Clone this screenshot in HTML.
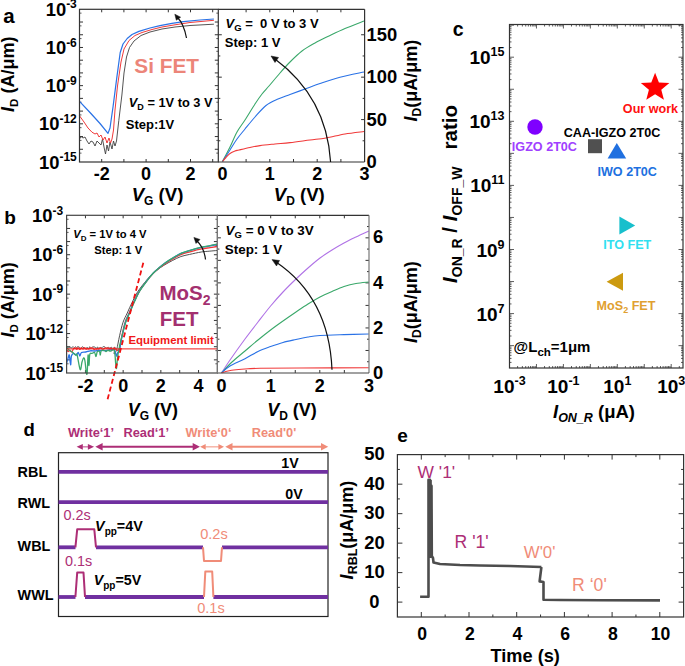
<!DOCTYPE html>
<html><head><meta charset="utf-8"><style>
html,body{margin:0;padding:0;background:#fff;}
svg{display:block;font-family:"Liberation Sans",sans-serif;}
text{white-space:pre;}
</style></head><body>
<svg width="685" height="666" viewBox="0 0 685 666" font-family="Liberation Sans, sans-serif">
<rect width="685" height="666" fill="#fff"/>
<line x1="79.50" y1="153.11" x2="81.50" y2="153.11" stroke="#333" stroke-width="0.8" />
<line x1="218.30" y1="153.11" x2="216.30" y2="153.11" stroke="#333" stroke-width="0.8" />
<line x1="79.50" y1="149.28" x2="83.00" y2="149.28" stroke="#333" stroke-width="1" />
<line x1="218.30" y1="149.28" x2="214.80" y2="149.28" stroke="#333" stroke-width="1" />
<line x1="79.50" y1="140.38" x2="81.50" y2="140.38" stroke="#333" stroke-width="0.8" />
<line x1="218.30" y1="140.38" x2="216.30" y2="140.38" stroke="#333" stroke-width="0.8" />
<line x1="79.50" y1="136.55" x2="83.00" y2="136.55" stroke="#333" stroke-width="1" />
<line x1="218.30" y1="136.55" x2="214.80" y2="136.55" stroke="#333" stroke-width="1" />
<line x1="79.50" y1="127.66" x2="81.50" y2="127.66" stroke="#333" stroke-width="0.8" />
<line x1="218.30" y1="127.66" x2="216.30" y2="127.66" stroke="#333" stroke-width="0.8" />
<line x1="79.50" y1="123.82" x2="83.00" y2="123.82" stroke="#333" stroke-width="1" />
<line x1="218.30" y1="123.82" x2="214.80" y2="123.82" stroke="#333" stroke-width="1" />
<line x1="79.50" y1="114.93" x2="81.50" y2="114.93" stroke="#333" stroke-width="0.8" />
<line x1="218.30" y1="114.93" x2="216.30" y2="114.93" stroke="#333" stroke-width="0.8" />
<line x1="79.50" y1="111.10" x2="83.00" y2="111.10" stroke="#333" stroke-width="1" />
<line x1="218.30" y1="111.10" x2="214.80" y2="111.10" stroke="#333" stroke-width="1" />
<line x1="79.50" y1="102.21" x2="81.50" y2="102.21" stroke="#333" stroke-width="0.8" />
<line x1="218.30" y1="102.21" x2="216.30" y2="102.21" stroke="#333" stroke-width="0.8" />
<line x1="79.50" y1="98.37" x2="83.00" y2="98.37" stroke="#333" stroke-width="1" />
<line x1="218.30" y1="98.37" x2="214.80" y2="98.37" stroke="#333" stroke-width="1" />
<line x1="79.50" y1="89.48" x2="81.50" y2="89.48" stroke="#333" stroke-width="0.8" />
<line x1="218.30" y1="89.48" x2="216.30" y2="89.48" stroke="#333" stroke-width="0.8" />
<line x1="79.50" y1="85.65" x2="83.00" y2="85.65" stroke="#333" stroke-width="1" />
<line x1="218.30" y1="85.65" x2="214.80" y2="85.65" stroke="#333" stroke-width="1" />
<line x1="79.50" y1="76.76" x2="81.50" y2="76.76" stroke="#333" stroke-width="0.8" />
<line x1="218.30" y1="76.76" x2="216.30" y2="76.76" stroke="#333" stroke-width="0.8" />
<line x1="79.50" y1="72.92" x2="83.00" y2="72.92" stroke="#333" stroke-width="1" />
<line x1="218.30" y1="72.92" x2="214.80" y2="72.92" stroke="#333" stroke-width="1" />
<line x1="79.50" y1="64.03" x2="81.50" y2="64.03" stroke="#333" stroke-width="0.8" />
<line x1="218.30" y1="64.03" x2="216.30" y2="64.03" stroke="#333" stroke-width="0.8" />
<line x1="79.50" y1="60.20" x2="83.00" y2="60.20" stroke="#333" stroke-width="1" />
<line x1="218.30" y1="60.20" x2="214.80" y2="60.20" stroke="#333" stroke-width="1" />
<line x1="79.50" y1="51.31" x2="81.50" y2="51.31" stroke="#333" stroke-width="0.8" />
<line x1="218.30" y1="51.31" x2="216.30" y2="51.31" stroke="#333" stroke-width="0.8" />
<line x1="79.50" y1="47.47" x2="83.00" y2="47.47" stroke="#333" stroke-width="1" />
<line x1="218.30" y1="47.47" x2="214.80" y2="47.47" stroke="#333" stroke-width="1" />
<line x1="79.50" y1="38.58" x2="81.50" y2="38.58" stroke="#333" stroke-width="0.8" />
<line x1="218.30" y1="38.58" x2="216.30" y2="38.58" stroke="#333" stroke-width="0.8" />
<line x1="79.50" y1="34.75" x2="83.00" y2="34.75" stroke="#333" stroke-width="1" />
<line x1="218.30" y1="34.75" x2="214.80" y2="34.75" stroke="#333" stroke-width="1" />
<line x1="79.50" y1="25.86" x2="81.50" y2="25.86" stroke="#333" stroke-width="0.8" />
<line x1="218.30" y1="25.86" x2="216.30" y2="25.86" stroke="#333" stroke-width="0.8" />
<line x1="79.50" y1="22.02" x2="83.00" y2="22.02" stroke="#333" stroke-width="1" />
<line x1="218.30" y1="22.02" x2="214.80" y2="22.02" stroke="#333" stroke-width="1" />
<line x1="79.50" y1="13.13" x2="81.50" y2="13.13" stroke="#333" stroke-width="0.8" />
<line x1="218.30" y1="13.13" x2="216.30" y2="13.13" stroke="#333" stroke-width="0.8" />
<line x1="101.70" y1="162.00" x2="101.70" y2="159.00" stroke="#333" stroke-width="1" />
<line x1="101.70" y1="9.30" x2="101.70" y2="12.30" stroke="#333" stroke-width="1" />
<line x1="123.90" y1="162.00" x2="123.90" y2="159.00" stroke="#333" stroke-width="1" />
<line x1="123.90" y1="9.30" x2="123.90" y2="12.30" stroke="#333" stroke-width="1" />
<line x1="146.10" y1="162.00" x2="146.10" y2="159.00" stroke="#333" stroke-width="1" />
<line x1="146.10" y1="9.30" x2="146.10" y2="12.30" stroke="#333" stroke-width="1" />
<line x1="168.30" y1="162.00" x2="168.30" y2="159.00" stroke="#333" stroke-width="1" />
<line x1="168.30" y1="9.30" x2="168.30" y2="12.30" stroke="#333" stroke-width="1" />
<line x1="190.50" y1="162.00" x2="190.50" y2="159.00" stroke="#333" stroke-width="1" />
<line x1="190.50" y1="9.30" x2="190.50" y2="12.30" stroke="#333" stroke-width="1" />
<line x1="212.70" y1="162.00" x2="212.70" y2="159.00" stroke="#333" stroke-width="1" />
<line x1="212.70" y1="9.30" x2="212.70" y2="12.30" stroke="#333" stroke-width="1" />
<text x="76.8" y="15.9" font-size="18.4" text-anchor="end" fill="#000" font-weight="bold">10<tspan font-size="12" dy="-7.5">-3</tspan></text>
<text x="76.8" y="54.1" font-size="18.4" text-anchor="end" fill="#000" font-weight="bold">10<tspan font-size="12" dy="-7.5">-6</tspan></text>
<text x="76.8" y="92.2" font-size="18.4" text-anchor="end" fill="#000" font-weight="bold">10<tspan font-size="12" dy="-7.5">-9</tspan></text>
<text x="76.8" y="130.4" font-size="18.4" text-anchor="end" fill="#000" font-weight="bold">10<tspan font-size="12" dy="-7.5">-12</tspan></text>
<text x="76.8" y="168.6" font-size="18.4" text-anchor="end" fill="#000" font-weight="bold">10<tspan font-size="12" dy="-7.5">-15</tspan></text>
<text x="101.7" y="179.9" font-size="18" text-anchor="middle" fill="#000" font-weight="bold" font-style="normal" >-2</text>
<text x="146.1" y="179.9" font-size="18" text-anchor="middle" fill="#000" font-weight="bold" font-style="normal" >0</text>
<text x="190.5" y="179.9" font-size="18" text-anchor="middle" fill="#000" font-weight="bold" font-style="normal" >2</text>
<text x="157.5" y="200.9" font-size="18.6" text-anchor="middle" font-weight="bold"><tspan font-style="italic">V</tspan><tspan font-size="12" dy="4.4">G</tspan><tspan dy="-4.4"> (V)</tspan></text>
<text transform="translate(13.6,74.25) rotate(-90)" font-size="18" text-anchor="middle" font-weight="bold"><tspan font-style="italic">I</tspan><tspan font-size="11.5" dy="4">D</tspan><tspan dy="-4"> (A/μm)</tspan></text>
<text x="3.2" y="23.0" font-size="20.5" text-anchor="start" fill="#000" font-weight="bold" font-style="normal" >a</text>
<polyline points="79.50,139.00 81.00,136.50 83.00,138.00 85.00,137.00 87.00,141.00 89.00,144.00 91.00,141.00 93.00,142.00 95.00,146.00 97.00,141.00 99.00,143.00 101.00,145.00 102.50,139.00 104.00,147.00 105.50,154.00 107.00,145.00 108.50,151.00 110.00,142.00 112.00,149.00 113.50,141.00 115.00,146.00 116.50,141.00 118.80,120.50 121.90,95.00 124.00,73.00 126.50,57.00 129.50,47.50 134.00,41.00 141.00,35.50 150.00,32.00 162.00,29.00 175.00,27.00 190.00,25.50 213.90,24.20" fill="none" stroke="#404040" stroke-width="0.9" stroke-linejoin="round" />
<polyline points="79.50,115.80 84.00,122.00 88.00,128.00 92.00,132.20 95.00,134.00 97.00,133.00 99.00,137.00 101.00,135.00 103.00,140.00 105.00,137.00 107.00,143.00 109.00,138.00 110.50,143.00 112.00,139.00 113.50,130.00 115.00,110.00 117.50,86.00 121.00,62.00 124.00,49.00 129.00,40.50 135.00,35.50 142.00,32.50 152.00,29.50 162.00,27.00 175.00,24.80 190.00,22.50 213.90,20.30" fill="none" stroke="#f03a3a" stroke-width="1.0" stroke-linejoin="round" />
<polyline points="79.50,101.30 90.00,112.50 100.00,123.50 108.00,133.40 110.00,128.00 113.10,106.40 116.70,78.30 120.20,52.50 123.00,44.00 127.20,38.50 132.00,34.50 138.90,31.40 150.00,28.00 160.00,25.60 172.00,23.30 183.40,21.60 200.00,20.00 213.90,19.00" fill="none" stroke="#2a72e6" stroke-width="1.2" stroke-linejoin="round" />
<rect x="79.50" y="9.30" width="138.80" height="152.70" fill="none" stroke="#333" stroke-width="1.2"/>
<path d="M186.5,38 C185,30 182,22 177.5,17.5" fill="none" stroke="#111" stroke-width="1.2" />
<path d="M174.8,14.2 L180.6,17.2 L176.3,20.2 Z" fill="#111" stroke="#111" stroke-width="0.5" />
<text x="134.3" y="72.8" font-size="20.8" text-anchor="start" fill="#ec8579" font-weight="bold" font-style="normal" >Si FET</text>
<text x="128.8" y="107.2" font-size="12.8" font-weight="bold"><tspan font-style="italic">V</tspan><tspan font-size="9" dy="3">D</tspan><tspan dy="-3"> = 1V to 3 V</tspan></text>
<text x="125.8" y="129.4" font-size="13" text-anchor="start" fill="#000" font-weight="bold" font-style="normal" >Step:1V</text>
<line x1="246.10" y1="162.00" x2="246.10" y2="159.00" stroke="#333" stroke-width="1" />
<line x1="246.10" y1="9.30" x2="246.10" y2="12.30" stroke="#333" stroke-width="1" />
<line x1="269.80" y1="162.00" x2="269.80" y2="159.00" stroke="#333" stroke-width="1" />
<line x1="269.80" y1="9.30" x2="269.80" y2="12.30" stroke="#333" stroke-width="1" />
<line x1="293.50" y1="162.00" x2="293.50" y2="159.00" stroke="#333" stroke-width="1" />
<line x1="293.50" y1="9.30" x2="293.50" y2="12.30" stroke="#333" stroke-width="1" />
<line x1="317.20" y1="162.00" x2="317.20" y2="159.00" stroke="#333" stroke-width="1" />
<line x1="317.20" y1="9.30" x2="317.20" y2="12.30" stroke="#333" stroke-width="1" />
<line x1="340.90" y1="162.00" x2="340.90" y2="159.00" stroke="#333" stroke-width="1" />
<line x1="340.90" y1="9.30" x2="340.90" y2="12.30" stroke="#333" stroke-width="1" />
<line x1="364.60" y1="140.79" x2="362.60" y2="140.79" stroke="#333" stroke-width="1" />
<line x1="218.30" y1="140.79" x2="220.30" y2="140.79" stroke="#333" stroke-width="1" />
<line x1="364.60" y1="119.58" x2="361.10" y2="119.58" stroke="#333" stroke-width="1" />
<line x1="218.30" y1="119.58" x2="221.80" y2="119.58" stroke="#333" stroke-width="1" />
<line x1="364.60" y1="98.38" x2="362.60" y2="98.38" stroke="#333" stroke-width="1" />
<line x1="218.30" y1="98.38" x2="220.30" y2="98.38" stroke="#333" stroke-width="1" />
<line x1="364.60" y1="77.17" x2="361.10" y2="77.17" stroke="#333" stroke-width="1" />
<line x1="218.30" y1="77.17" x2="221.80" y2="77.17" stroke="#333" stroke-width="1" />
<line x1="364.60" y1="55.96" x2="362.60" y2="55.96" stroke="#333" stroke-width="1" />
<line x1="218.30" y1="55.96" x2="220.30" y2="55.96" stroke="#333" stroke-width="1" />
<line x1="364.60" y1="34.75" x2="361.10" y2="34.75" stroke="#333" stroke-width="1" />
<line x1="218.30" y1="34.75" x2="221.80" y2="34.75" stroke="#333" stroke-width="1" />
<path d="M222.50,161.50 C223.75,159.08 227.58,151.92 230.00,147.00 C232.42,142.08 234.50,136.50 237.00,132.00 C239.50,127.50 242.00,124.67 245.00,120.00 C248.00,115.33 252.17,108.33 255.00,104.00 C257.83,99.67 259.67,97.00 262.00,94.00 C264.33,91.00 266.00,89.50 269.00,86.00 C272.00,82.50 276.50,77.00 280.00,73.00 C283.50,69.00 286.33,65.67 290.00,62.00 C293.67,58.33 297.83,54.17 302.00,51.00 C306.17,47.83 310.50,45.50 315.00,43.00 C319.50,40.50 324.00,38.42 329.00,36.00 C334.00,33.58 339.17,31.00 345.00,28.50 C350.83,26.00 360.83,22.25 364.00,21.00" fill="none" stroke="#3aa86a" stroke-width="1.1" stroke-linejoin="round" />
<path d="M222.50,161.50 C223.75,159.58 227.58,153.75 230.00,150.00 C232.42,146.25 234.50,142.50 237.00,139.00 C239.50,135.50 242.00,132.67 245.00,129.00 C248.00,125.33 251.50,120.92 255.00,117.00 C258.50,113.08 262.17,108.50 266.00,105.50 C269.83,102.50 274.00,100.83 278.00,99.00 C282.00,97.17 285.50,96.17 290.00,94.50 C294.50,92.83 300.00,90.83 305.00,89.00 C310.00,87.17 314.17,85.47 320.00,83.50 C325.83,81.53 332.67,79.12 340.00,77.20 C347.33,75.28 360.00,72.87 364.00,72.00" fill="none" stroke="#2a72e6" stroke-width="1.1" stroke-linejoin="round" />
<path d="M222.50,161.50 C223.08,160.83 224.75,158.83 226.00,157.50 C227.25,156.17 228.50,154.58 230.00,153.50 C231.50,152.42 233.50,151.58 235.00,151.00 C236.50,150.42 236.50,150.58 239.00,150.00 C241.50,149.42 246.50,148.23 250.00,147.50 C253.50,146.77 255.83,146.18 260.00,145.60 C264.17,145.02 270.00,144.50 275.00,144.00 C280.00,143.50 284.17,143.27 290.00,142.60 C295.83,141.93 304.00,140.77 310.00,140.00 C316.00,139.23 320.17,139.00 326.00,138.00 C331.83,137.00 338.67,135.08 345.00,134.00 C351.33,132.92 360.83,131.92 364.00,131.50" fill="none" stroke="#f03a3a" stroke-width="1.1" stroke-linejoin="round" />
<line x1="218.30" y1="9.30" x2="364.60" y2="9.30" stroke="#333" stroke-width="1.2" />
<line x1="364.60" y1="9.30" x2="364.60" y2="162.00" stroke="#333" stroke-width="1.2" />
<line x1="218.30" y1="162.00" x2="364.60" y2="162.00" stroke="#333" stroke-width="1.2" />
<text x="222.4" y="179.9" font-size="18" text-anchor="middle" fill="#000" font-weight="bold" font-style="normal" >0</text>
<text x="269.8" y="179.9" font-size="18" text-anchor="middle" fill="#000" font-weight="bold" font-style="normal" >1</text>
<text x="317.2" y="179.9" font-size="18" text-anchor="middle" fill="#000" font-weight="bold" font-style="normal" >2</text>
<text x="364.6" y="179.9" font-size="18" text-anchor="middle" fill="#000" font-weight="bold" font-style="normal" >3</text>
<text x="366.5" y="168.0" font-size="18.4" text-anchor="start" fill="#000" font-weight="bold" font-style="normal" >0</text>
<text x="366.5" y="125.6" font-size="18.4" text-anchor="start" fill="#000" font-weight="bold" font-style="normal" >50</text>
<text x="366.5" y="83.2" font-size="18.4" text-anchor="start" fill="#000" font-weight="bold" font-style="normal" >100</text>
<text x="366.5" y="40.8" font-size="18.4" text-anchor="start" fill="#000" font-weight="bold" font-style="normal" >150</text>
<text x="299.3" y="200.9" font-size="18.6" text-anchor="middle" font-weight="bold"><tspan font-style="italic">V</tspan><tspan font-size="12" dy="4.4">D</tspan><tspan dy="-4.4"> (V)</tspan></text>
<text transform="translate(416.9,80.6) rotate(-90)" font-size="18" text-anchor="middle" font-weight="bold"><tspan font-style="italic">I</tspan><tspan font-size="12" dy="4">D</tspan><tspan dy="-4">(μA/μm)</tspan></text>
<path d="M330.6,162 C328,120 310,85 275,59" fill="none" stroke="#111" stroke-width="1.2" />
<path d="M271,56 L278.5,57.5 L275,62.5 Z" fill="#111" stroke="#111" stroke-width="0.5" />
<text x="225.6" y="28.1" font-size="13" font-weight="bold"><tspan font-style="italic">V</tspan><tspan font-size="9.5" dy="3">G</tspan><tspan dy="-3"> =  0 V to 3 V</tspan></text>
<text x="224.8" y="46.5" font-size="13" text-anchor="start" fill="#000" font-weight="bold" font-style="normal" >Step: 1 V</text>
<line x1="66.60" y1="363.81" x2="68.60" y2="363.81" stroke="#333" stroke-width="0.8" />
<line x1="217.40" y1="363.81" x2="215.40" y2="363.81" stroke="#333" stroke-width="0.8" />
<line x1="66.60" y1="359.86" x2="70.10" y2="359.86" stroke="#333" stroke-width="1" />
<line x1="217.40" y1="359.86" x2="213.90" y2="359.86" stroke="#333" stroke-width="1" />
<line x1="66.60" y1="350.67" x2="68.60" y2="350.67" stroke="#333" stroke-width="0.8" />
<line x1="217.40" y1="350.67" x2="215.40" y2="350.67" stroke="#333" stroke-width="0.8" />
<line x1="66.60" y1="346.72" x2="70.10" y2="346.72" stroke="#333" stroke-width="1" />
<line x1="217.40" y1="346.72" x2="213.90" y2="346.72" stroke="#333" stroke-width="1" />
<line x1="66.60" y1="337.53" x2="68.60" y2="337.53" stroke="#333" stroke-width="0.8" />
<line x1="217.40" y1="337.53" x2="215.40" y2="337.53" stroke="#333" stroke-width="0.8" />
<line x1="66.60" y1="333.57" x2="70.10" y2="333.57" stroke="#333" stroke-width="1" />
<line x1="217.40" y1="333.57" x2="213.90" y2="333.57" stroke="#333" stroke-width="1" />
<line x1="66.60" y1="324.39" x2="68.60" y2="324.39" stroke="#333" stroke-width="0.8" />
<line x1="217.40" y1="324.39" x2="215.40" y2="324.39" stroke="#333" stroke-width="0.8" />
<line x1="66.60" y1="320.43" x2="70.10" y2="320.43" stroke="#333" stroke-width="1" />
<line x1="217.40" y1="320.43" x2="213.90" y2="320.43" stroke="#333" stroke-width="1" />
<line x1="66.60" y1="311.25" x2="68.60" y2="311.25" stroke="#333" stroke-width="0.8" />
<line x1="217.40" y1="311.25" x2="215.40" y2="311.25" stroke="#333" stroke-width="0.8" />
<line x1="66.60" y1="307.29" x2="70.10" y2="307.29" stroke="#333" stroke-width="1" />
<line x1="217.40" y1="307.29" x2="213.90" y2="307.29" stroke="#333" stroke-width="1" />
<line x1="66.60" y1="298.11" x2="68.60" y2="298.11" stroke="#333" stroke-width="0.8" />
<line x1="217.40" y1="298.11" x2="215.40" y2="298.11" stroke="#333" stroke-width="0.8" />
<line x1="66.60" y1="294.15" x2="70.10" y2="294.15" stroke="#333" stroke-width="1" />
<line x1="217.40" y1="294.15" x2="213.90" y2="294.15" stroke="#333" stroke-width="1" />
<line x1="66.60" y1="284.96" x2="68.60" y2="284.96" stroke="#333" stroke-width="0.8" />
<line x1="217.40" y1="284.96" x2="215.40" y2="284.96" stroke="#333" stroke-width="0.8" />
<line x1="66.60" y1="281.01" x2="70.10" y2="281.01" stroke="#333" stroke-width="1" />
<line x1="217.40" y1="281.01" x2="213.90" y2="281.01" stroke="#333" stroke-width="1" />
<line x1="66.60" y1="271.82" x2="68.60" y2="271.82" stroke="#333" stroke-width="0.8" />
<line x1="217.40" y1="271.82" x2="215.40" y2="271.82" stroke="#333" stroke-width="0.8" />
<line x1="66.60" y1="267.87" x2="70.10" y2="267.87" stroke="#333" stroke-width="1" />
<line x1="217.40" y1="267.87" x2="213.90" y2="267.87" stroke="#333" stroke-width="1" />
<line x1="66.60" y1="258.68" x2="68.60" y2="258.68" stroke="#333" stroke-width="0.8" />
<line x1="217.40" y1="258.68" x2="215.40" y2="258.68" stroke="#333" stroke-width="0.8" />
<line x1="66.60" y1="254.73" x2="70.10" y2="254.73" stroke="#333" stroke-width="1" />
<line x1="217.40" y1="254.73" x2="213.90" y2="254.73" stroke="#333" stroke-width="1" />
<line x1="66.60" y1="245.54" x2="68.60" y2="245.54" stroke="#333" stroke-width="0.8" />
<line x1="217.40" y1="245.54" x2="215.40" y2="245.54" stroke="#333" stroke-width="0.8" />
<line x1="66.60" y1="241.58" x2="70.10" y2="241.58" stroke="#333" stroke-width="1" />
<line x1="217.40" y1="241.58" x2="213.90" y2="241.58" stroke="#333" stroke-width="1" />
<line x1="66.60" y1="232.40" x2="68.60" y2="232.40" stroke="#333" stroke-width="0.8" />
<line x1="217.40" y1="232.40" x2="215.40" y2="232.40" stroke="#333" stroke-width="0.8" />
<line x1="66.60" y1="228.44" x2="70.10" y2="228.44" stroke="#333" stroke-width="1" />
<line x1="217.40" y1="228.44" x2="213.90" y2="228.44" stroke="#333" stroke-width="1" />
<line x1="66.60" y1="219.26" x2="68.60" y2="219.26" stroke="#333" stroke-width="0.8" />
<line x1="217.40" y1="219.26" x2="215.40" y2="219.26" stroke="#333" stroke-width="0.8" />
<line x1="85.45" y1="373.00" x2="85.45" y2="370.00" stroke="#333" stroke-width="1" />
<line x1="85.45" y1="215.30" x2="85.45" y2="218.30" stroke="#333" stroke-width="1" />
<line x1="104.30" y1="373.00" x2="104.30" y2="370.00" stroke="#333" stroke-width="1" />
<line x1="104.30" y1="215.30" x2="104.30" y2="218.30" stroke="#333" stroke-width="1" />
<line x1="123.15" y1="373.00" x2="123.15" y2="370.00" stroke="#333" stroke-width="1" />
<line x1="123.15" y1="215.30" x2="123.15" y2="218.30" stroke="#333" stroke-width="1" />
<line x1="142.00" y1="373.00" x2="142.00" y2="370.00" stroke="#333" stroke-width="1" />
<line x1="142.00" y1="215.30" x2="142.00" y2="218.30" stroke="#333" stroke-width="1" />
<line x1="160.85" y1="373.00" x2="160.85" y2="370.00" stroke="#333" stroke-width="1" />
<line x1="160.85" y1="215.30" x2="160.85" y2="218.30" stroke="#333" stroke-width="1" />
<line x1="179.70" y1="373.00" x2="179.70" y2="370.00" stroke="#333" stroke-width="1" />
<line x1="179.70" y1="215.30" x2="179.70" y2="218.30" stroke="#333" stroke-width="1" />
<line x1="198.55" y1="373.00" x2="198.55" y2="370.00" stroke="#333" stroke-width="1" />
<line x1="198.55" y1="215.30" x2="198.55" y2="218.30" stroke="#333" stroke-width="1" />
<text x="63.2" y="222.0" font-size="18.4" text-anchor="end" fill="#000" font-weight="bold">10<tspan font-size="12" dy="-7.5">-3</tspan></text>
<text x="63.2" y="261.4" font-size="18.4" text-anchor="end" fill="#000" font-weight="bold">10<tspan font-size="12" dy="-7.5">-6</tspan></text>
<text x="63.2" y="300.8" font-size="18.4" text-anchor="end" fill="#000" font-weight="bold">10<tspan font-size="12" dy="-7.5">-9</tspan></text>
<text x="63.2" y="340.3" font-size="18.4" text-anchor="end" fill="#000" font-weight="bold">10<tspan font-size="12" dy="-7.5">-12</tspan></text>
<text x="63.2" y="379.7" font-size="18.4" text-anchor="end" fill="#000" font-weight="bold">10<tspan font-size="12" dy="-7.5">-15</tspan></text>
<text x="85.4" y="391.6" font-size="18" text-anchor="middle" fill="#000" font-weight="bold" font-style="normal" >-2</text>
<text x="123.2" y="391.6" font-size="18" text-anchor="middle" fill="#000" font-weight="bold" font-style="normal" >0</text>
<text x="160.8" y="391.6" font-size="18" text-anchor="middle" fill="#000" font-weight="bold" font-style="normal" >2</text>
<text x="198.6" y="391.6" font-size="18" text-anchor="middle" fill="#000" font-weight="bold" font-style="normal" >4</text>
<text x="152.9" y="415.8" font-size="18" text-anchor="middle" font-weight="bold"><tspan font-style="italic">V</tspan><tspan font-size="12" dy="4.4">G</tspan><tspan dy="-4.4"> (V)</tspan></text>
<text transform="translate(13.6,299.9) rotate(-90)" font-size="18" text-anchor="middle" font-weight="bold"><tspan font-style="italic">I</tspan><tspan font-size="11.5" dy="4">D</tspan><tspan dy="-4"> (A/μm)</tspan></text>
<text x="4.2" y="223.7" font-size="19" text-anchor="start" fill="#000" font-weight="bold" font-style="normal" >b</text>
<path d="M66.60,347.38 C66.78,347.31 67.33,346.83 67.70,346.96 C68.07,347.09 68.43,348.19 68.80,348.16 C69.17,348.13 69.53,346.82 69.90,346.77 C70.27,346.73 70.63,347.77 71.00,347.89 C71.37,348.00 71.73,347.67 72.10,347.48 C72.47,347.29 72.83,346.68 73.20,346.74 C73.57,346.80 73.93,347.83 74.30,347.82 C74.67,347.81 75.03,346.72 75.40,346.69 C75.77,346.66 76.13,347.63 76.50,347.64 C76.87,347.65 77.23,346.90 77.60,346.77 C77.97,346.63 78.33,346.68 78.70,346.82 C79.07,346.96 79.43,347.32 79.80,347.62 C80.17,347.91 80.53,348.70 80.90,348.58 C81.27,348.46 81.63,347.14 82.00,346.90 C82.37,346.66 82.73,346.93 83.10,347.14 C83.47,347.34 83.83,347.82 84.20,348.11 C84.57,348.40 84.93,348.89 85.30,348.87 C85.67,348.85 86.03,348.21 86.40,347.99 C86.77,347.76 87.13,347.39 87.50,347.55 C87.87,347.71 88.23,349.08 88.60,348.94 C88.97,348.80 89.33,346.76 89.70,346.71 C90.07,346.66 90.43,348.56 90.80,348.66 C91.17,348.76 91.53,347.58 91.90,347.30 C92.27,347.01 92.63,347.01 93.00,346.95 C93.37,346.88 93.73,346.82 94.10,346.88 C94.47,346.95 94.83,347.06 95.20,347.34 C95.57,347.62 95.93,348.61 96.30,348.56 C96.67,348.51 97.03,347.13 97.40,347.03 C97.77,346.94 98.13,347.81 98.50,348.00 C98.87,348.18 99.23,348.22 99.60,348.13 C99.97,348.05 100.33,347.53 100.70,347.49 C101.07,347.46 101.43,348.04 101.80,347.91 C102.17,347.79 102.53,346.95 102.90,346.75 C103.27,346.56 103.63,346.69 104.00,346.74 C104.37,346.80 104.73,346.85 105.10,347.09 C105.47,347.34 105.83,348.14 106.20,348.23 C106.57,348.32 106.93,347.77 107.30,347.63 C107.67,347.48 108.03,347.29 108.40,347.35 C108.77,347.42 109.13,347.95 109.50,348.01 C109.87,348.06 110.23,347.80 110.60,347.69 C110.97,347.57 111.33,347.18 111.70,347.32 C112.07,347.46 112.43,348.35 112.80,348.51 C113.17,348.67 113.53,348.50 113.90,348.28 C114.27,348.06 114.97,346.23 115.00,347.19 C115.03,348.14 113.81,353.66 114.10,354.00 C114.39,354.34 115.82,352.26 116.74,349.22 C117.65,346.19 118.53,340.26 119.58,335.79 C120.62,331.31 121.73,326.18 123.01,322.39 C124.29,318.60 125.74,316.37 127.25,313.04 C128.76,309.72 130.36,305.97 132.09,302.44 C133.82,298.91 135.55,295.17 137.62,291.87 C139.70,288.58 142.27,285.49 144.56,282.65 C146.86,279.82 149.10,277.13 151.40,274.88 C153.70,272.62 156.21,270.76 158.34,269.14 C160.47,267.52 161.85,266.57 164.18,265.15 C166.50,263.73 169.55,262.03 172.31,260.60 C175.07,259.17 177.87,257.62 180.75,256.59 C183.63,255.57 186.18,255.19 189.59,254.43 C193.00,253.67 197.85,252.56 201.22,252.01 C204.60,251.46 207.23,251.39 209.86,251.13 C212.49,250.88 215.81,250.61 217.00,250.50" fill="none" stroke="#505050" stroke-width="1.0" stroke-linejoin="round" />
<path d="M66.60,349.50 C66.83,349.83 67.43,351.33 68.00,351.50 C68.57,351.67 69.33,350.45 70.00,350.50 C70.67,350.55 71.42,352.13 72.00,351.80 C72.58,351.47 73.07,349.10 73.50,348.53 C73.93,347.95 74.23,348.45 74.60,348.35 C74.97,348.24 75.33,347.71 75.70,347.88 C76.07,348.04 76.43,349.38 76.80,349.33 C77.17,349.29 77.53,347.73 77.90,347.61 C78.27,347.49 78.63,348.31 79.00,348.61 C79.37,348.90 79.73,349.54 80.10,349.40 C80.47,349.26 80.83,347.88 81.20,347.76 C81.57,347.65 81.93,348.53 82.30,348.71 C82.67,348.89 83.03,349.00 83.40,348.83 C83.77,348.66 84.13,347.76 84.50,347.68 C84.87,347.60 85.23,348.14 85.60,348.36 C85.97,348.58 86.33,348.98 86.70,349.01 C87.07,349.03 87.43,348.50 87.80,348.50 C88.17,348.51 88.53,349.15 88.90,349.05 C89.27,348.95 89.63,348.08 90.00,347.91 C90.37,347.75 90.73,348.09 91.10,348.08 C91.47,348.06 91.83,347.73 92.20,347.82 C92.57,347.91 92.93,348.34 93.30,348.61 C93.67,348.88 94.03,349.42 94.40,349.45 C94.77,349.48 95.13,348.83 95.50,348.78 C95.87,348.73 96.23,349.22 96.60,349.15 C96.97,349.08 97.33,348.38 97.70,348.37 C98.07,348.36 98.43,349.19 98.80,349.09 C99.17,349.00 99.53,347.95 99.90,347.80 C100.27,347.65 100.63,347.99 101.00,348.18 C101.37,348.37 101.73,348.80 102.10,348.95 C102.47,349.09 102.83,349.14 103.20,349.05 C103.57,348.97 103.93,348.66 104.30,348.44 C104.67,348.23 105.03,347.83 105.40,347.78 C105.77,347.72 106.13,348.09 106.50,348.13 C106.87,348.17 107.23,348.01 107.60,348.02 C107.97,348.02 108.33,347.96 108.70,348.16 C109.07,348.36 109.43,349.25 109.80,349.22 C110.17,349.19 110.53,347.97 110.90,348.00 C111.27,348.02 111.63,349.15 112.00,349.37 C112.37,349.60 112.73,349.64 113.10,349.36 C113.47,349.08 113.72,347.69 114.20,347.71 C114.68,347.73 115.16,349.25 116.00,349.50 C116.84,349.75 118.28,351.50 119.27,349.21 C120.26,346.91 120.95,340.22 121.94,335.72 C122.93,331.23 123.98,326.07 125.21,322.25 C126.43,318.43 127.82,316.16 129.28,312.79 C130.73,309.43 132.27,305.63 133.94,302.05 C135.62,298.47 137.29,294.67 139.31,291.31 C141.34,287.95 143.84,284.79 146.08,281.89 C148.32,278.98 150.51,276.21 152.75,273.88 C154.99,271.54 157.45,269.59 159.52,267.87 C161.59,266.16 162.91,265.11 165.19,263.59 C167.46,262.06 170.45,260.25 173.16,258.71 C175.86,257.17 178.60,255.50 181.43,254.34 C184.25,253.19 186.74,252.69 190.09,251.79 C193.45,250.89 198.24,249.64 201.56,248.95 C204.89,248.25 207.46,248.03 210.03,247.62 C212.60,247.21 215.84,246.69 217.00,246.50" fill="none" stroke="#f03a3a" stroke-width="1.3" stroke-linejoin="round" />
<path d="M66.60,363.00 C66.83,362.27 67.55,359.93 68.00,358.60 C68.45,357.27 68.87,353.97 69.30,355.00 C69.73,356.03 70.25,364.63 70.60,364.80 C70.95,364.97 70.90,357.90 71.40,356.00 C71.90,354.10 72.78,353.57 73.60,353.40 C74.42,353.23 75.50,355.15 76.30,355.00 C77.10,354.85 77.82,352.33 78.40,352.50 C78.98,352.67 79.28,356.00 79.80,356.00 C80.32,356.00 80.48,353.17 81.50,352.50 C82.52,351.83 84.43,352.28 85.90,352.00 C87.37,351.72 88.78,350.97 90.30,350.80 C91.82,350.63 93.55,351.08 95.00,351.00 C96.45,350.92 97.50,350.37 99.00,350.30 C100.50,350.23 102.33,350.65 104.00,350.60 C105.67,350.55 107.28,350.10 109.00,350.00 C110.72,349.90 113.05,349.00 114.30,350.00 C115.55,351.00 115.97,355.50 116.50,356.00 C117.03,356.50 116.99,354.13 117.50,353.00 C118.01,351.87 118.77,352.08 119.55,349.20 C120.33,346.31 121.22,340.19 122.20,335.69 C123.18,331.19 124.23,326.02 125.45,322.18 C126.67,318.35 128.05,316.06 129.50,312.67 C130.95,309.28 132.48,305.46 134.15,301.85 C135.82,298.24 137.48,294.42 139.50,291.03 C141.52,287.64 144.02,284.45 146.25,281.50 C148.48,278.56 150.67,275.75 152.90,273.38 C155.13,271.00 157.58,269.00 159.65,267.24 C161.72,265.48 163.03,264.38 165.30,262.80 C167.57,261.23 170.55,259.36 173.25,257.76 C175.95,256.17 178.68,254.43 181.50,253.22 C184.32,252.00 186.80,251.44 190.15,250.47 C193.50,249.50 198.28,248.19 201.60,247.42 C204.92,246.65 207.48,246.35 210.05,245.86 C212.62,245.37 215.84,244.73 217.00,244.50" fill="none" stroke="#2a72e6" stroke-width="1.3" stroke-linejoin="round" />
<path d="M66.60,347.30 C67.05,347.80 68.27,349.43 69.30,350.30 C70.33,351.17 71.78,351.72 72.80,352.50 C73.82,353.28 74.68,354.58 75.40,355.00 C76.12,355.42 76.30,352.57 77.10,355.00 C77.90,357.43 79.38,368.43 80.20,369.60 C81.02,370.77 81.42,363.97 82.00,362.00 C82.58,360.03 83.20,357.92 83.70,357.80 C84.20,357.68 84.57,358.83 85.00,361.30 C85.43,363.77 85.93,370.72 86.30,372.60 C86.67,374.48 86.90,375.53 87.20,372.60 C87.50,369.67 87.80,356.17 88.10,355.00 C88.40,353.83 88.72,365.72 89.00,365.60 C89.28,365.48 89.30,356.33 89.80,354.30 C90.30,352.27 91.20,353.70 92.00,353.40 C92.80,353.10 93.93,351.98 94.60,352.50 C95.27,353.02 95.55,356.65 96.00,356.50 C96.45,356.35 96.72,352.42 97.30,351.60 C97.88,350.78 99.00,351.03 99.50,351.60 C100.00,352.17 100.02,355.13 100.30,355.00 C100.58,354.87 100.53,351.58 101.20,350.80 C101.87,350.02 103.50,350.17 104.30,350.30 C105.10,350.43 105.42,351.60 106.00,351.60 C106.58,351.60 107.07,350.37 107.80,350.30 C108.53,350.23 109.32,351.20 110.40,351.20 C111.48,351.20 113.42,348.17 114.30,350.30 C115.18,352.43 115.33,361.00 115.70,364.00 C116.07,367.00 116.18,369.47 116.50,368.30 C116.82,367.13 117.15,360.37 117.60,357.00 C118.05,353.63 118.65,350.88 119.20,348.10 C119.75,345.32 119.80,344.62 120.90,340.30 C122.00,335.98 124.29,326.78 125.77,322.17 C127.26,317.56 128.36,316.04 129.80,312.65 C131.24,309.26 132.77,305.43 134.42,301.82 C136.08,298.21 137.74,294.38 139.75,290.99 C141.76,287.59 144.25,284.39 146.48,281.45 C148.70,278.50 150.88,275.68 153.10,273.30 C155.32,270.92 157.77,268.92 159.83,267.15 C161.88,265.38 163.19,264.27 165.45,262.69 C167.71,261.10 170.68,259.23 173.38,257.62 C176.07,256.02 178.79,254.28 181.60,253.05 C184.41,251.83 186.88,251.25 190.22,250.27 C193.57,249.29 198.34,247.97 201.65,247.19 C204.96,246.41 207.52,246.09 210.07,245.60 C212.63,245.10 215.85,244.43 217.00,244.20" fill="none" stroke="#3aa86a" stroke-width="1.3" stroke-linejoin="round" />
<line x1="66.60" y1="348.90" x2="217.40" y2="348.90" stroke="#f01818" stroke-width="1.0" />
<line x1="107.60" y1="399.20" x2="143.40" y2="262.40" stroke="#f01010" stroke-width="1.8" stroke-dasharray="5,3"/>
<rect x="66.60" y="215.30" width="150.80" height="157.70" fill="none" stroke="#444" stroke-width="1.2"/>
<path d="M205.5,259.5 C204.5,251 201.5,245 196.5,240.5" fill="none" stroke="#111" stroke-width="1.2" />
<path d="M193.9,237.4 L200,239.5 L196,243.5 Z" fill="#111" stroke="#111" stroke-width="0.5" />
<text x="73.2" y="238.4" font-size="11.2" font-weight="bold"><tspan font-style="italic">V</tspan><tspan font-size="8" dy="2.5">D</tspan><tspan dy="-2.5"> = 1V to 4 V</tspan></text>
<text x="94.3" y="254.2" font-size="11.2" text-anchor="start" fill="#000" font-weight="bold" font-style="normal" >Step: 1 V</text>
<text x="159.4" y="300.4" font-size="20.5" font-weight="bold" fill="#a3306f">MoS<tspan font-size="14" dy="4.9">2</tspan></text>
<text x="159.8" y="325.8" font-size="20.5" text-anchor="start" fill="#a3306f" font-weight="bold" font-style="normal" >FET</text>
<text x="128.4" y="343.8" font-size="11.4" text-anchor="start" fill="#f01818" font-weight="bold" font-style="normal" >Equipment limit</text>
<line x1="246.15" y1="373.00" x2="246.15" y2="370.00" stroke="#333" stroke-width="1" />
<line x1="246.15" y1="215.30" x2="246.15" y2="218.30" stroke="#333" stroke-width="1" />
<line x1="270.70" y1="373.00" x2="270.70" y2="370.00" stroke="#333" stroke-width="1" />
<line x1="270.70" y1="215.30" x2="270.70" y2="218.30" stroke="#333" stroke-width="1" />
<line x1="295.25" y1="373.00" x2="295.25" y2="370.00" stroke="#333" stroke-width="1" />
<line x1="295.25" y1="215.30" x2="295.25" y2="218.30" stroke="#333" stroke-width="1" />
<line x1="319.80" y1="373.00" x2="319.80" y2="370.00" stroke="#333" stroke-width="1" />
<line x1="319.80" y1="215.30" x2="319.80" y2="218.30" stroke="#333" stroke-width="1" />
<line x1="344.35" y1="373.00" x2="344.35" y2="370.00" stroke="#333" stroke-width="1" />
<line x1="344.35" y1="215.30" x2="344.35" y2="218.30" stroke="#333" stroke-width="1" />
<line x1="369.00" y1="361.74" x2="367.00" y2="361.74" stroke="#333" stroke-width="1" />
<line x1="217.40" y1="361.74" x2="219.40" y2="361.74" stroke="#333" stroke-width="1" />
<line x1="369.00" y1="350.47" x2="365.50" y2="350.47" stroke="#333" stroke-width="1" />
<line x1="217.40" y1="350.47" x2="220.90" y2="350.47" stroke="#333" stroke-width="1" />
<line x1="369.00" y1="339.21" x2="367.00" y2="339.21" stroke="#333" stroke-width="1" />
<line x1="217.40" y1="339.21" x2="219.40" y2="339.21" stroke="#333" stroke-width="1" />
<line x1="369.00" y1="327.94" x2="365.50" y2="327.94" stroke="#333" stroke-width="1" />
<line x1="217.40" y1="327.94" x2="220.90" y2="327.94" stroke="#333" stroke-width="1" />
<line x1="369.00" y1="316.68" x2="367.00" y2="316.68" stroke="#333" stroke-width="1" />
<line x1="217.40" y1="316.68" x2="219.40" y2="316.68" stroke="#333" stroke-width="1" />
<line x1="369.00" y1="305.41" x2="365.50" y2="305.41" stroke="#333" stroke-width="1" />
<line x1="217.40" y1="305.41" x2="220.90" y2="305.41" stroke="#333" stroke-width="1" />
<line x1="369.00" y1="294.15" x2="367.00" y2="294.15" stroke="#333" stroke-width="1" />
<line x1="217.40" y1="294.15" x2="219.40" y2="294.15" stroke="#333" stroke-width="1" />
<line x1="369.00" y1="282.89" x2="365.50" y2="282.89" stroke="#333" stroke-width="1" />
<line x1="217.40" y1="282.89" x2="220.90" y2="282.89" stroke="#333" stroke-width="1" />
<line x1="369.00" y1="271.62" x2="367.00" y2="271.62" stroke="#333" stroke-width="1" />
<line x1="217.40" y1="271.62" x2="219.40" y2="271.62" stroke="#333" stroke-width="1" />
<line x1="369.00" y1="260.36" x2="365.50" y2="260.36" stroke="#333" stroke-width="1" />
<line x1="217.40" y1="260.36" x2="220.90" y2="260.36" stroke="#333" stroke-width="1" />
<line x1="369.00" y1="249.09" x2="367.00" y2="249.09" stroke="#333" stroke-width="1" />
<line x1="217.40" y1="249.09" x2="219.40" y2="249.09" stroke="#333" stroke-width="1" />
<line x1="369.00" y1="237.83" x2="365.50" y2="237.83" stroke="#333" stroke-width="1" />
<line x1="217.40" y1="237.83" x2="220.90" y2="237.83" stroke="#333" stroke-width="1" />
<line x1="369.00" y1="226.56" x2="367.00" y2="226.56" stroke="#333" stroke-width="1" />
<line x1="217.40" y1="226.56" x2="219.40" y2="226.56" stroke="#333" stroke-width="1" />
<path d="M221.60,372.80 C223.00,370.67 226.10,365.63 230.00,360.00 C233.90,354.37 240.33,345.33 245.00,339.00 C249.67,332.67 253.73,327.50 258.00,322.00 C262.27,316.50 266.43,311.00 270.60,306.00 C274.77,301.00 278.77,296.50 283.00,292.00 C287.23,287.50 291.83,283.00 296.00,279.00 C300.17,275.00 304.00,271.50 308.00,268.00 C312.00,264.50 316.00,261.00 320.00,258.00 C324.00,255.00 328.00,252.50 332.00,250.00 C336.00,247.50 340.00,245.17 344.00,243.00 C348.00,240.83 351.87,239.00 356.00,237.00 C360.13,235.00 366.67,232.00 368.80,231.00" fill="none" stroke="#b073e6" stroke-width="1.1" stroke-linejoin="round" />
<path d="M221.60,372.80 C223.33,371.00 228.10,365.63 232.00,362.00 C235.90,358.37 240.67,354.67 245.00,351.00 C249.33,347.33 253.73,343.50 258.00,340.00 C262.27,336.50 266.43,333.17 270.60,330.00 C274.77,326.83 278.77,324.00 283.00,321.00 C287.23,318.00 291.83,314.83 296.00,312.00 C300.17,309.17 304.00,306.50 308.00,304.00 C312.00,301.50 316.00,299.08 320.00,297.00 C324.00,294.92 328.00,293.23 332.00,291.50 C336.00,289.77 340.00,287.93 344.00,286.60 C348.00,285.27 351.87,284.27 356.00,283.50 C360.13,282.73 366.67,282.25 368.80,282.00" fill="none" stroke="#3aa86a" stroke-width="1.1" stroke-linejoin="round" />
<path d="M221.60,372.80 C223.00,371.67 226.10,368.35 230.00,366.00 C233.90,363.65 240.33,361.12 245.00,358.70 C249.67,356.28 253.73,353.52 258.00,351.50 C262.27,349.48 266.43,348.10 270.60,346.60 C274.77,345.10 278.77,343.68 283.00,342.50 C287.23,341.32 291.83,340.42 296.00,339.50 C300.17,338.58 304.00,337.67 308.00,337.00 C312.00,336.33 314.00,335.90 320.00,335.50 C326.00,335.10 335.87,334.85 344.00,334.60 C352.13,334.35 364.67,334.10 368.80,334.00" fill="none" stroke="#2a72e6" stroke-width="1.1" stroke-linejoin="round" />
<path d="M221.60,372.80 C222.67,372.50 225.60,371.50 228.00,371.00 C230.40,370.50 232.67,370.17 236.00,369.80 C239.33,369.43 244.00,369.05 248.00,368.80 C252.00,368.55 251.33,368.43 260.00,368.30 C268.67,368.17 281.87,368.08 300.00,368.00 C318.13,367.92 357.33,367.83 368.80,367.80" fill="none" stroke="#f03a3a" stroke-width="1.1" stroke-linejoin="round" />
<line x1="217.40" y1="215.30" x2="369.00" y2="215.30" stroke="#333" stroke-width="1.2" />
<line x1="369.00" y1="215.30" x2="369.00" y2="373.00" stroke="#777" stroke-width="1.2" />
<line x1="217.40" y1="373.00" x2="369.00" y2="373.00" stroke="#444" stroke-width="1.2" />
<line x1="217.40" y1="215.30" x2="217.40" y2="373.00" stroke="#777" stroke-width="1.2" />
<text x="221.6" y="391.6" font-size="18" text-anchor="middle" fill="#000" font-weight="bold" font-style="normal" >0</text>
<text x="270.7" y="391.6" font-size="18" text-anchor="middle" fill="#000" font-weight="bold" font-style="normal" >1</text>
<text x="319.8" y="391.6" font-size="18" text-anchor="middle" fill="#000" font-weight="bold" font-style="normal" >2</text>
<text x="368.9" y="391.6" font-size="18" text-anchor="middle" fill="#000" font-weight="bold" font-style="normal" >3</text>
<text x="373.0" y="378.6" font-size="18.4" text-anchor="start" fill="#000" font-weight="bold" font-style="normal" >0</text>
<text x="373.0" y="333.5" font-size="18.4" text-anchor="start" fill="#000" font-weight="bold" font-style="normal" >2</text>
<text x="373.0" y="288.5" font-size="18.4" text-anchor="start" fill="#000" font-weight="bold" font-style="normal" >4</text>
<text x="373.0" y="243.4" font-size="18.4" text-anchor="start" fill="#000" font-weight="bold" font-style="normal" >6</text>
<text x="292" y="415.6" font-size="18" text-anchor="middle" font-weight="bold"><tspan font-style="italic">V</tspan><tspan font-size="12" dy="4.4">D</tspan><tspan dy="-4.4"> (V)</tspan></text>
<text transform="translate(417.2,302.1) rotate(-90)" font-size="18" text-anchor="middle" font-weight="bold"><tspan font-style="italic">I</tspan><tspan font-size="12" dy="4">D</tspan><tspan dy="-4">(μA/μm)</tspan></text>
<path d="M332,369.8 C330,320 310,285 276,262" fill="none" stroke="#111" stroke-width="1.2" />
<path d="M272,259.6 L279.5,260.5 L276.5,266 Z" fill="#111" stroke="#111" stroke-width="0.5" />
<text x="225.6" y="234.9" font-size="13.4" font-weight="bold"><tspan font-style="italic">V</tspan><tspan font-size="9.5" dy="3">G</tspan><tspan dy="-3"> = 0 V to 3V</tspan></text>
<text x="224.8" y="253.7" font-size="13.4" text-anchor="start" fill="#000" font-weight="bold" font-style="normal" >Step: 1 V</text>
<line x1="517.61" y1="368.00" x2="517.61" y2="366.00" stroke="#333" stroke-width="0.8" />
<line x1="517.61" y1="24.50" x2="517.61" y2="26.50" stroke="#333" stroke-width="0.8" />
<line x1="522.36" y1="368.00" x2="522.36" y2="366.00" stroke="#333" stroke-width="0.8" />
<line x1="522.36" y1="24.50" x2="522.36" y2="26.50" stroke="#333" stroke-width="0.8" />
<line x1="525.73" y1="368.00" x2="525.73" y2="366.00" stroke="#333" stroke-width="0.8" />
<line x1="525.73" y1="24.50" x2="525.73" y2="26.50" stroke="#333" stroke-width="0.8" />
<line x1="528.34" y1="368.00" x2="528.34" y2="366.00" stroke="#333" stroke-width="0.8" />
<line x1="528.34" y1="24.50" x2="528.34" y2="26.50" stroke="#333" stroke-width="0.8" />
<line x1="530.47" y1="368.00" x2="530.47" y2="366.00" stroke="#333" stroke-width="0.8" />
<line x1="530.47" y1="24.50" x2="530.47" y2="26.50" stroke="#333" stroke-width="0.8" />
<line x1="532.28" y1="368.00" x2="532.28" y2="366.00" stroke="#333" stroke-width="0.8" />
<line x1="532.28" y1="24.50" x2="532.28" y2="26.50" stroke="#333" stroke-width="0.8" />
<line x1="533.84" y1="368.00" x2="533.84" y2="366.00" stroke="#333" stroke-width="0.8" />
<line x1="533.84" y1="24.50" x2="533.84" y2="26.50" stroke="#333" stroke-width="0.8" />
<line x1="535.22" y1="368.00" x2="535.22" y2="366.00" stroke="#333" stroke-width="0.8" />
<line x1="535.22" y1="24.50" x2="535.22" y2="26.50" stroke="#333" stroke-width="0.8" />
<line x1="536.45" y1="368.00" x2="536.45" y2="364.00" stroke="#333" stroke-width="0.8" />
<line x1="536.45" y1="24.50" x2="536.45" y2="28.50" stroke="#333" stroke-width="0.8" />
<line x1="544.56" y1="368.00" x2="544.56" y2="366.00" stroke="#333" stroke-width="0.8" />
<line x1="544.56" y1="24.50" x2="544.56" y2="26.50" stroke="#333" stroke-width="0.8" />
<line x1="549.31" y1="368.00" x2="549.31" y2="366.00" stroke="#333" stroke-width="0.8" />
<line x1="549.31" y1="24.50" x2="549.31" y2="26.50" stroke="#333" stroke-width="0.8" />
<line x1="552.68" y1="368.00" x2="552.68" y2="366.00" stroke="#333" stroke-width="0.8" />
<line x1="552.68" y1="24.50" x2="552.68" y2="26.50" stroke="#333" stroke-width="0.8" />
<line x1="555.29" y1="368.00" x2="555.29" y2="366.00" stroke="#333" stroke-width="0.8" />
<line x1="555.29" y1="24.50" x2="555.29" y2="26.50" stroke="#333" stroke-width="0.8" />
<line x1="557.42" y1="368.00" x2="557.42" y2="366.00" stroke="#333" stroke-width="0.8" />
<line x1="557.42" y1="24.50" x2="557.42" y2="26.50" stroke="#333" stroke-width="0.8" />
<line x1="559.23" y1="368.00" x2="559.23" y2="366.00" stroke="#333" stroke-width="0.8" />
<line x1="559.23" y1="24.50" x2="559.23" y2="26.50" stroke="#333" stroke-width="0.8" />
<line x1="560.79" y1="368.00" x2="560.79" y2="366.00" stroke="#333" stroke-width="0.8" />
<line x1="560.79" y1="24.50" x2="560.79" y2="26.50" stroke="#333" stroke-width="0.8" />
<line x1="562.17" y1="368.00" x2="562.17" y2="366.00" stroke="#333" stroke-width="0.8" />
<line x1="562.17" y1="24.50" x2="562.17" y2="26.50" stroke="#333" stroke-width="0.8" />
<line x1="563.40" y1="368.00" x2="563.40" y2="364.00" stroke="#333" stroke-width="0.8" />
<line x1="563.40" y1="24.50" x2="563.40" y2="28.50" stroke="#333" stroke-width="0.8" />
<line x1="571.51" y1="368.00" x2="571.51" y2="366.00" stroke="#333" stroke-width="0.8" />
<line x1="571.51" y1="24.50" x2="571.51" y2="26.50" stroke="#333" stroke-width="0.8" />
<line x1="576.26" y1="368.00" x2="576.26" y2="366.00" stroke="#333" stroke-width="0.8" />
<line x1="576.26" y1="24.50" x2="576.26" y2="26.50" stroke="#333" stroke-width="0.8" />
<line x1="579.63" y1="368.00" x2="579.63" y2="366.00" stroke="#333" stroke-width="0.8" />
<line x1="579.63" y1="24.50" x2="579.63" y2="26.50" stroke="#333" stroke-width="0.8" />
<line x1="582.24" y1="368.00" x2="582.24" y2="366.00" stroke="#333" stroke-width="0.8" />
<line x1="582.24" y1="24.50" x2="582.24" y2="26.50" stroke="#333" stroke-width="0.8" />
<line x1="584.37" y1="368.00" x2="584.37" y2="366.00" stroke="#333" stroke-width="0.8" />
<line x1="584.37" y1="24.50" x2="584.37" y2="26.50" stroke="#333" stroke-width="0.8" />
<line x1="586.18" y1="368.00" x2="586.18" y2="366.00" stroke="#333" stroke-width="0.8" />
<line x1="586.18" y1="24.50" x2="586.18" y2="26.50" stroke="#333" stroke-width="0.8" />
<line x1="587.74" y1="368.00" x2="587.74" y2="366.00" stroke="#333" stroke-width="0.8" />
<line x1="587.74" y1="24.50" x2="587.74" y2="26.50" stroke="#333" stroke-width="0.8" />
<line x1="589.12" y1="368.00" x2="589.12" y2="366.00" stroke="#333" stroke-width="0.8" />
<line x1="589.12" y1="24.50" x2="589.12" y2="26.50" stroke="#333" stroke-width="0.8" />
<line x1="590.35" y1="368.00" x2="590.35" y2="364.00" stroke="#333" stroke-width="0.8" />
<line x1="590.35" y1="24.50" x2="590.35" y2="28.50" stroke="#333" stroke-width="0.8" />
<line x1="598.46" y1="368.00" x2="598.46" y2="366.00" stroke="#333" stroke-width="0.8" />
<line x1="598.46" y1="24.50" x2="598.46" y2="26.50" stroke="#333" stroke-width="0.8" />
<line x1="603.21" y1="368.00" x2="603.21" y2="366.00" stroke="#333" stroke-width="0.8" />
<line x1="603.21" y1="24.50" x2="603.21" y2="26.50" stroke="#333" stroke-width="0.8" />
<line x1="606.58" y1="368.00" x2="606.58" y2="366.00" stroke="#333" stroke-width="0.8" />
<line x1="606.58" y1="24.50" x2="606.58" y2="26.50" stroke="#333" stroke-width="0.8" />
<line x1="609.19" y1="368.00" x2="609.19" y2="366.00" stroke="#333" stroke-width="0.8" />
<line x1="609.19" y1="24.50" x2="609.19" y2="26.50" stroke="#333" stroke-width="0.8" />
<line x1="611.32" y1="368.00" x2="611.32" y2="366.00" stroke="#333" stroke-width="0.8" />
<line x1="611.32" y1="24.50" x2="611.32" y2="26.50" stroke="#333" stroke-width="0.8" />
<line x1="613.13" y1="368.00" x2="613.13" y2="366.00" stroke="#333" stroke-width="0.8" />
<line x1="613.13" y1="24.50" x2="613.13" y2="26.50" stroke="#333" stroke-width="0.8" />
<line x1="614.69" y1="368.00" x2="614.69" y2="366.00" stroke="#333" stroke-width="0.8" />
<line x1="614.69" y1="24.50" x2="614.69" y2="26.50" stroke="#333" stroke-width="0.8" />
<line x1="616.07" y1="368.00" x2="616.07" y2="366.00" stroke="#333" stroke-width="0.8" />
<line x1="616.07" y1="24.50" x2="616.07" y2="26.50" stroke="#333" stroke-width="0.8" />
<line x1="617.30" y1="368.00" x2="617.30" y2="364.00" stroke="#333" stroke-width="0.8" />
<line x1="617.30" y1="24.50" x2="617.30" y2="28.50" stroke="#333" stroke-width="0.8" />
<line x1="625.41" y1="368.00" x2="625.41" y2="366.00" stroke="#333" stroke-width="0.8" />
<line x1="625.41" y1="24.50" x2="625.41" y2="26.50" stroke="#333" stroke-width="0.8" />
<line x1="630.16" y1="368.00" x2="630.16" y2="366.00" stroke="#333" stroke-width="0.8" />
<line x1="630.16" y1="24.50" x2="630.16" y2="26.50" stroke="#333" stroke-width="0.8" />
<line x1="633.53" y1="368.00" x2="633.53" y2="366.00" stroke="#333" stroke-width="0.8" />
<line x1="633.53" y1="24.50" x2="633.53" y2="26.50" stroke="#333" stroke-width="0.8" />
<line x1="636.14" y1="368.00" x2="636.14" y2="366.00" stroke="#333" stroke-width="0.8" />
<line x1="636.14" y1="24.50" x2="636.14" y2="26.50" stroke="#333" stroke-width="0.8" />
<line x1="638.27" y1="368.00" x2="638.27" y2="366.00" stroke="#333" stroke-width="0.8" />
<line x1="638.27" y1="24.50" x2="638.27" y2="26.50" stroke="#333" stroke-width="0.8" />
<line x1="640.08" y1="368.00" x2="640.08" y2="366.00" stroke="#333" stroke-width="0.8" />
<line x1="640.08" y1="24.50" x2="640.08" y2="26.50" stroke="#333" stroke-width="0.8" />
<line x1="641.64" y1="368.00" x2="641.64" y2="366.00" stroke="#333" stroke-width="0.8" />
<line x1="641.64" y1="24.50" x2="641.64" y2="26.50" stroke="#333" stroke-width="0.8" />
<line x1="643.02" y1="368.00" x2="643.02" y2="366.00" stroke="#333" stroke-width="0.8" />
<line x1="643.02" y1="24.50" x2="643.02" y2="26.50" stroke="#333" stroke-width="0.8" />
<line x1="644.25" y1="368.00" x2="644.25" y2="364.00" stroke="#333" stroke-width="0.8" />
<line x1="644.25" y1="24.50" x2="644.25" y2="28.50" stroke="#333" stroke-width="0.8" />
<line x1="652.36" y1="368.00" x2="652.36" y2="366.00" stroke="#333" stroke-width="0.8" />
<line x1="652.36" y1="24.50" x2="652.36" y2="26.50" stroke="#333" stroke-width="0.8" />
<line x1="657.11" y1="368.00" x2="657.11" y2="366.00" stroke="#333" stroke-width="0.8" />
<line x1="657.11" y1="24.50" x2="657.11" y2="26.50" stroke="#333" stroke-width="0.8" />
<line x1="660.48" y1="368.00" x2="660.48" y2="366.00" stroke="#333" stroke-width="0.8" />
<line x1="660.48" y1="24.50" x2="660.48" y2="26.50" stroke="#333" stroke-width="0.8" />
<line x1="663.09" y1="368.00" x2="663.09" y2="366.00" stroke="#333" stroke-width="0.8" />
<line x1="663.09" y1="24.50" x2="663.09" y2="26.50" stroke="#333" stroke-width="0.8" />
<line x1="665.22" y1="368.00" x2="665.22" y2="366.00" stroke="#333" stroke-width="0.8" />
<line x1="665.22" y1="24.50" x2="665.22" y2="26.50" stroke="#333" stroke-width="0.8" />
<line x1="667.03" y1="368.00" x2="667.03" y2="366.00" stroke="#333" stroke-width="0.8" />
<line x1="667.03" y1="24.50" x2="667.03" y2="26.50" stroke="#333" stroke-width="0.8" />
<line x1="668.59" y1="368.00" x2="668.59" y2="366.00" stroke="#333" stroke-width="0.8" />
<line x1="668.59" y1="24.50" x2="668.59" y2="26.50" stroke="#333" stroke-width="0.8" />
<line x1="669.97" y1="368.00" x2="669.97" y2="366.00" stroke="#333" stroke-width="0.8" />
<line x1="669.97" y1="24.50" x2="669.97" y2="26.50" stroke="#333" stroke-width="0.8" />
<line x1="671.20" y1="368.00" x2="671.20" y2="364.00" stroke="#333" stroke-width="0.8" />
<line x1="671.20" y1="24.50" x2="671.20" y2="28.50" stroke="#333" stroke-width="0.8" />
<line x1="679.31" y1="368.00" x2="679.31" y2="366.00" stroke="#333" stroke-width="0.8" />
<line x1="679.31" y1="24.50" x2="679.31" y2="26.50" stroke="#333" stroke-width="0.8" />
<line x1="509.50" y1="362.41" x2="511.50" y2="362.41" stroke="#333" stroke-width="0.8" />
<line x1="683.00" y1="362.41" x2="681.00" y2="362.41" stroke="#333" stroke-width="0.8" />
<line x1="509.50" y1="358.40" x2="511.50" y2="358.40" stroke="#333" stroke-width="0.8" />
<line x1="683.00" y1="358.40" x2="681.00" y2="358.40" stroke="#333" stroke-width="0.8" />
<line x1="509.50" y1="355.30" x2="511.50" y2="355.30" stroke="#333" stroke-width="0.8" />
<line x1="683.00" y1="355.30" x2="681.00" y2="355.30" stroke="#333" stroke-width="0.8" />
<line x1="509.50" y1="352.76" x2="511.50" y2="352.76" stroke="#333" stroke-width="0.8" />
<line x1="683.00" y1="352.76" x2="681.00" y2="352.76" stroke="#333" stroke-width="0.8" />
<line x1="509.50" y1="350.61" x2="511.50" y2="350.61" stroke="#333" stroke-width="0.8" />
<line x1="683.00" y1="350.61" x2="681.00" y2="350.61" stroke="#333" stroke-width="0.8" />
<line x1="509.50" y1="348.76" x2="511.50" y2="348.76" stroke="#333" stroke-width="0.8" />
<line x1="683.00" y1="348.76" x2="681.00" y2="348.76" stroke="#333" stroke-width="0.8" />
<line x1="509.50" y1="347.12" x2="511.50" y2="347.12" stroke="#333" stroke-width="0.8" />
<line x1="683.00" y1="347.12" x2="681.00" y2="347.12" stroke="#333" stroke-width="0.8" />
<line x1="509.50" y1="345.65" x2="514.00" y2="345.65" stroke="#333" stroke-width="0.8" />
<line x1="683.00" y1="345.65" x2="678.50" y2="345.65" stroke="#333" stroke-width="0.8" />
<line x1="509.50" y1="336.00" x2="511.50" y2="336.00" stroke="#333" stroke-width="0.8" />
<line x1="683.00" y1="336.00" x2="681.00" y2="336.00" stroke="#333" stroke-width="0.8" />
<line x1="509.50" y1="330.36" x2="511.50" y2="330.36" stroke="#333" stroke-width="0.8" />
<line x1="683.00" y1="330.36" x2="681.00" y2="330.36" stroke="#333" stroke-width="0.8" />
<line x1="509.50" y1="326.35" x2="511.50" y2="326.35" stroke="#333" stroke-width="0.8" />
<line x1="683.00" y1="326.35" x2="681.00" y2="326.35" stroke="#333" stroke-width="0.8" />
<line x1="509.50" y1="323.25" x2="511.50" y2="323.25" stroke="#333" stroke-width="0.8" />
<line x1="683.00" y1="323.25" x2="681.00" y2="323.25" stroke="#333" stroke-width="0.8" />
<line x1="509.50" y1="320.71" x2="511.50" y2="320.71" stroke="#333" stroke-width="0.8" />
<line x1="683.00" y1="320.71" x2="681.00" y2="320.71" stroke="#333" stroke-width="0.8" />
<line x1="509.50" y1="318.56" x2="511.50" y2="318.56" stroke="#333" stroke-width="0.8" />
<line x1="683.00" y1="318.56" x2="681.00" y2="318.56" stroke="#333" stroke-width="0.8" />
<line x1="509.50" y1="316.71" x2="511.50" y2="316.71" stroke="#333" stroke-width="0.8" />
<line x1="683.00" y1="316.71" x2="681.00" y2="316.71" stroke="#333" stroke-width="0.8" />
<line x1="509.50" y1="315.07" x2="511.50" y2="315.07" stroke="#333" stroke-width="0.8" />
<line x1="683.00" y1="315.07" x2="681.00" y2="315.07" stroke="#333" stroke-width="0.8" />
<line x1="509.50" y1="313.60" x2="514.00" y2="313.60" stroke="#333" stroke-width="0.8" />
<line x1="683.00" y1="313.60" x2="678.50" y2="313.60" stroke="#333" stroke-width="0.8" />
<line x1="509.50" y1="303.95" x2="511.50" y2="303.95" stroke="#333" stroke-width="0.8" />
<line x1="683.00" y1="303.95" x2="681.00" y2="303.95" stroke="#333" stroke-width="0.8" />
<line x1="509.50" y1="298.31" x2="511.50" y2="298.31" stroke="#333" stroke-width="0.8" />
<line x1="683.00" y1="298.31" x2="681.00" y2="298.31" stroke="#333" stroke-width="0.8" />
<line x1="509.50" y1="294.30" x2="511.50" y2="294.30" stroke="#333" stroke-width="0.8" />
<line x1="683.00" y1="294.30" x2="681.00" y2="294.30" stroke="#333" stroke-width="0.8" />
<line x1="509.50" y1="291.20" x2="511.50" y2="291.20" stroke="#333" stroke-width="0.8" />
<line x1="683.00" y1="291.20" x2="681.00" y2="291.20" stroke="#333" stroke-width="0.8" />
<line x1="509.50" y1="288.66" x2="511.50" y2="288.66" stroke="#333" stroke-width="0.8" />
<line x1="683.00" y1="288.66" x2="681.00" y2="288.66" stroke="#333" stroke-width="0.8" />
<line x1="509.50" y1="286.51" x2="511.50" y2="286.51" stroke="#333" stroke-width="0.8" />
<line x1="683.00" y1="286.51" x2="681.00" y2="286.51" stroke="#333" stroke-width="0.8" />
<line x1="509.50" y1="284.66" x2="511.50" y2="284.66" stroke="#333" stroke-width="0.8" />
<line x1="683.00" y1="284.66" x2="681.00" y2="284.66" stroke="#333" stroke-width="0.8" />
<line x1="509.50" y1="283.02" x2="511.50" y2="283.02" stroke="#333" stroke-width="0.8" />
<line x1="683.00" y1="283.02" x2="681.00" y2="283.02" stroke="#333" stroke-width="0.8" />
<line x1="509.50" y1="281.55" x2="514.00" y2="281.55" stroke="#333" stroke-width="0.8" />
<line x1="683.00" y1="281.55" x2="678.50" y2="281.55" stroke="#333" stroke-width="0.8" />
<line x1="509.50" y1="271.90" x2="511.50" y2="271.90" stroke="#333" stroke-width="0.8" />
<line x1="683.00" y1="271.90" x2="681.00" y2="271.90" stroke="#333" stroke-width="0.8" />
<line x1="509.50" y1="266.26" x2="511.50" y2="266.26" stroke="#333" stroke-width="0.8" />
<line x1="683.00" y1="266.26" x2="681.00" y2="266.26" stroke="#333" stroke-width="0.8" />
<line x1="509.50" y1="262.25" x2="511.50" y2="262.25" stroke="#333" stroke-width="0.8" />
<line x1="683.00" y1="262.25" x2="681.00" y2="262.25" stroke="#333" stroke-width="0.8" />
<line x1="509.50" y1="259.15" x2="511.50" y2="259.15" stroke="#333" stroke-width="0.8" />
<line x1="683.00" y1="259.15" x2="681.00" y2="259.15" stroke="#333" stroke-width="0.8" />
<line x1="509.50" y1="256.61" x2="511.50" y2="256.61" stroke="#333" stroke-width="0.8" />
<line x1="683.00" y1="256.61" x2="681.00" y2="256.61" stroke="#333" stroke-width="0.8" />
<line x1="509.50" y1="254.46" x2="511.50" y2="254.46" stroke="#333" stroke-width="0.8" />
<line x1="683.00" y1="254.46" x2="681.00" y2="254.46" stroke="#333" stroke-width="0.8" />
<line x1="509.50" y1="252.61" x2="511.50" y2="252.61" stroke="#333" stroke-width="0.8" />
<line x1="683.00" y1="252.61" x2="681.00" y2="252.61" stroke="#333" stroke-width="0.8" />
<line x1="509.50" y1="250.97" x2="511.50" y2="250.97" stroke="#333" stroke-width="0.8" />
<line x1="683.00" y1="250.97" x2="681.00" y2="250.97" stroke="#333" stroke-width="0.8" />
<line x1="509.50" y1="249.50" x2="514.00" y2="249.50" stroke="#333" stroke-width="0.8" />
<line x1="683.00" y1="249.50" x2="678.50" y2="249.50" stroke="#333" stroke-width="0.8" />
<line x1="509.50" y1="239.85" x2="511.50" y2="239.85" stroke="#333" stroke-width="0.8" />
<line x1="683.00" y1="239.85" x2="681.00" y2="239.85" stroke="#333" stroke-width="0.8" />
<line x1="509.50" y1="234.21" x2="511.50" y2="234.21" stroke="#333" stroke-width="0.8" />
<line x1="683.00" y1="234.21" x2="681.00" y2="234.21" stroke="#333" stroke-width="0.8" />
<line x1="509.50" y1="230.20" x2="511.50" y2="230.20" stroke="#333" stroke-width="0.8" />
<line x1="683.00" y1="230.20" x2="681.00" y2="230.20" stroke="#333" stroke-width="0.8" />
<line x1="509.50" y1="227.10" x2="511.50" y2="227.10" stroke="#333" stroke-width="0.8" />
<line x1="683.00" y1="227.10" x2="681.00" y2="227.10" stroke="#333" stroke-width="0.8" />
<line x1="509.50" y1="224.56" x2="511.50" y2="224.56" stroke="#333" stroke-width="0.8" />
<line x1="683.00" y1="224.56" x2="681.00" y2="224.56" stroke="#333" stroke-width="0.8" />
<line x1="509.50" y1="222.41" x2="511.50" y2="222.41" stroke="#333" stroke-width="0.8" />
<line x1="683.00" y1="222.41" x2="681.00" y2="222.41" stroke="#333" stroke-width="0.8" />
<line x1="509.50" y1="220.56" x2="511.50" y2="220.56" stroke="#333" stroke-width="0.8" />
<line x1="683.00" y1="220.56" x2="681.00" y2="220.56" stroke="#333" stroke-width="0.8" />
<line x1="509.50" y1="218.92" x2="511.50" y2="218.92" stroke="#333" stroke-width="0.8" />
<line x1="683.00" y1="218.92" x2="681.00" y2="218.92" stroke="#333" stroke-width="0.8" />
<line x1="509.50" y1="217.45" x2="514.00" y2="217.45" stroke="#333" stroke-width="0.8" />
<line x1="683.00" y1="217.45" x2="678.50" y2="217.45" stroke="#333" stroke-width="0.8" />
<line x1="509.50" y1="207.80" x2="511.50" y2="207.80" stroke="#333" stroke-width="0.8" />
<line x1="683.00" y1="207.80" x2="681.00" y2="207.80" stroke="#333" stroke-width="0.8" />
<line x1="509.50" y1="202.16" x2="511.50" y2="202.16" stroke="#333" stroke-width="0.8" />
<line x1="683.00" y1="202.16" x2="681.00" y2="202.16" stroke="#333" stroke-width="0.8" />
<line x1="509.50" y1="198.15" x2="511.50" y2="198.15" stroke="#333" stroke-width="0.8" />
<line x1="683.00" y1="198.15" x2="681.00" y2="198.15" stroke="#333" stroke-width="0.8" />
<line x1="509.50" y1="195.05" x2="511.50" y2="195.05" stroke="#333" stroke-width="0.8" />
<line x1="683.00" y1="195.05" x2="681.00" y2="195.05" stroke="#333" stroke-width="0.8" />
<line x1="509.50" y1="192.51" x2="511.50" y2="192.51" stroke="#333" stroke-width="0.8" />
<line x1="683.00" y1="192.51" x2="681.00" y2="192.51" stroke="#333" stroke-width="0.8" />
<line x1="509.50" y1="190.36" x2="511.50" y2="190.36" stroke="#333" stroke-width="0.8" />
<line x1="683.00" y1="190.36" x2="681.00" y2="190.36" stroke="#333" stroke-width="0.8" />
<line x1="509.50" y1="188.51" x2="511.50" y2="188.51" stroke="#333" stroke-width="0.8" />
<line x1="683.00" y1="188.51" x2="681.00" y2="188.51" stroke="#333" stroke-width="0.8" />
<line x1="509.50" y1="186.87" x2="511.50" y2="186.87" stroke="#333" stroke-width="0.8" />
<line x1="683.00" y1="186.87" x2="681.00" y2="186.87" stroke="#333" stroke-width="0.8" />
<line x1="509.50" y1="185.40" x2="514.00" y2="185.40" stroke="#333" stroke-width="0.8" />
<line x1="683.00" y1="185.40" x2="678.50" y2="185.40" stroke="#333" stroke-width="0.8" />
<line x1="509.50" y1="175.75" x2="511.50" y2="175.75" stroke="#333" stroke-width="0.8" />
<line x1="683.00" y1="175.75" x2="681.00" y2="175.75" stroke="#333" stroke-width="0.8" />
<line x1="509.50" y1="170.11" x2="511.50" y2="170.11" stroke="#333" stroke-width="0.8" />
<line x1="683.00" y1="170.11" x2="681.00" y2="170.11" stroke="#333" stroke-width="0.8" />
<line x1="509.50" y1="166.10" x2="511.50" y2="166.10" stroke="#333" stroke-width="0.8" />
<line x1="683.00" y1="166.10" x2="681.00" y2="166.10" stroke="#333" stroke-width="0.8" />
<line x1="509.50" y1="163.00" x2="511.50" y2="163.00" stroke="#333" stroke-width="0.8" />
<line x1="683.00" y1="163.00" x2="681.00" y2="163.00" stroke="#333" stroke-width="0.8" />
<line x1="509.50" y1="160.46" x2="511.50" y2="160.46" stroke="#333" stroke-width="0.8" />
<line x1="683.00" y1="160.46" x2="681.00" y2="160.46" stroke="#333" stroke-width="0.8" />
<line x1="509.50" y1="158.31" x2="511.50" y2="158.31" stroke="#333" stroke-width="0.8" />
<line x1="683.00" y1="158.31" x2="681.00" y2="158.31" stroke="#333" stroke-width="0.8" />
<line x1="509.50" y1="156.46" x2="511.50" y2="156.46" stroke="#333" stroke-width="0.8" />
<line x1="683.00" y1="156.46" x2="681.00" y2="156.46" stroke="#333" stroke-width="0.8" />
<line x1="509.50" y1="154.82" x2="511.50" y2="154.82" stroke="#333" stroke-width="0.8" />
<line x1="683.00" y1="154.82" x2="681.00" y2="154.82" stroke="#333" stroke-width="0.8" />
<line x1="509.50" y1="153.35" x2="514.00" y2="153.35" stroke="#333" stroke-width="0.8" />
<line x1="683.00" y1="153.35" x2="678.50" y2="153.35" stroke="#333" stroke-width="0.8" />
<line x1="509.50" y1="143.70" x2="511.50" y2="143.70" stroke="#333" stroke-width="0.8" />
<line x1="683.00" y1="143.70" x2="681.00" y2="143.70" stroke="#333" stroke-width="0.8" />
<line x1="509.50" y1="138.06" x2="511.50" y2="138.06" stroke="#333" stroke-width="0.8" />
<line x1="683.00" y1="138.06" x2="681.00" y2="138.06" stroke="#333" stroke-width="0.8" />
<line x1="509.50" y1="134.05" x2="511.50" y2="134.05" stroke="#333" stroke-width="0.8" />
<line x1="683.00" y1="134.05" x2="681.00" y2="134.05" stroke="#333" stroke-width="0.8" />
<line x1="509.50" y1="130.95" x2="511.50" y2="130.95" stroke="#333" stroke-width="0.8" />
<line x1="683.00" y1="130.95" x2="681.00" y2="130.95" stroke="#333" stroke-width="0.8" />
<line x1="509.50" y1="128.41" x2="511.50" y2="128.41" stroke="#333" stroke-width="0.8" />
<line x1="683.00" y1="128.41" x2="681.00" y2="128.41" stroke="#333" stroke-width="0.8" />
<line x1="509.50" y1="126.26" x2="511.50" y2="126.26" stroke="#333" stroke-width="0.8" />
<line x1="683.00" y1="126.26" x2="681.00" y2="126.26" stroke="#333" stroke-width="0.8" />
<line x1="509.50" y1="124.41" x2="511.50" y2="124.41" stroke="#333" stroke-width="0.8" />
<line x1="683.00" y1="124.41" x2="681.00" y2="124.41" stroke="#333" stroke-width="0.8" />
<line x1="509.50" y1="122.77" x2="511.50" y2="122.77" stroke="#333" stroke-width="0.8" />
<line x1="683.00" y1="122.77" x2="681.00" y2="122.77" stroke="#333" stroke-width="0.8" />
<line x1="509.50" y1="121.30" x2="514.00" y2="121.30" stroke="#333" stroke-width="0.8" />
<line x1="683.00" y1="121.30" x2="678.50" y2="121.30" stroke="#333" stroke-width="0.8" />
<line x1="509.50" y1="111.65" x2="511.50" y2="111.65" stroke="#333" stroke-width="0.8" />
<line x1="683.00" y1="111.65" x2="681.00" y2="111.65" stroke="#333" stroke-width="0.8" />
<line x1="509.50" y1="106.01" x2="511.50" y2="106.01" stroke="#333" stroke-width="0.8" />
<line x1="683.00" y1="106.01" x2="681.00" y2="106.01" stroke="#333" stroke-width="0.8" />
<line x1="509.50" y1="102.00" x2="511.50" y2="102.00" stroke="#333" stroke-width="0.8" />
<line x1="683.00" y1="102.00" x2="681.00" y2="102.00" stroke="#333" stroke-width="0.8" />
<line x1="509.50" y1="98.90" x2="511.50" y2="98.90" stroke="#333" stroke-width="0.8" />
<line x1="683.00" y1="98.90" x2="681.00" y2="98.90" stroke="#333" stroke-width="0.8" />
<line x1="509.50" y1="96.36" x2="511.50" y2="96.36" stroke="#333" stroke-width="0.8" />
<line x1="683.00" y1="96.36" x2="681.00" y2="96.36" stroke="#333" stroke-width="0.8" />
<line x1="509.50" y1="94.21" x2="511.50" y2="94.21" stroke="#333" stroke-width="0.8" />
<line x1="683.00" y1="94.21" x2="681.00" y2="94.21" stroke="#333" stroke-width="0.8" />
<line x1="509.50" y1="92.36" x2="511.50" y2="92.36" stroke="#333" stroke-width="0.8" />
<line x1="683.00" y1="92.36" x2="681.00" y2="92.36" stroke="#333" stroke-width="0.8" />
<line x1="509.50" y1="90.72" x2="511.50" y2="90.72" stroke="#333" stroke-width="0.8" />
<line x1="683.00" y1="90.72" x2="681.00" y2="90.72" stroke="#333" stroke-width="0.8" />
<line x1="509.50" y1="89.25" x2="514.00" y2="89.25" stroke="#333" stroke-width="0.8" />
<line x1="683.00" y1="89.25" x2="678.50" y2="89.25" stroke="#333" stroke-width="0.8" />
<line x1="509.50" y1="79.60" x2="511.50" y2="79.60" stroke="#333" stroke-width="0.8" />
<line x1="683.00" y1="79.60" x2="681.00" y2="79.60" stroke="#333" stroke-width="0.8" />
<line x1="509.50" y1="73.96" x2="511.50" y2="73.96" stroke="#333" stroke-width="0.8" />
<line x1="683.00" y1="73.96" x2="681.00" y2="73.96" stroke="#333" stroke-width="0.8" />
<line x1="509.50" y1="69.95" x2="511.50" y2="69.95" stroke="#333" stroke-width="0.8" />
<line x1="683.00" y1="69.95" x2="681.00" y2="69.95" stroke="#333" stroke-width="0.8" />
<line x1="509.50" y1="66.85" x2="511.50" y2="66.85" stroke="#333" stroke-width="0.8" />
<line x1="683.00" y1="66.85" x2="681.00" y2="66.85" stroke="#333" stroke-width="0.8" />
<line x1="509.50" y1="64.31" x2="511.50" y2="64.31" stroke="#333" stroke-width="0.8" />
<line x1="683.00" y1="64.31" x2="681.00" y2="64.31" stroke="#333" stroke-width="0.8" />
<line x1="509.50" y1="62.16" x2="511.50" y2="62.16" stroke="#333" stroke-width="0.8" />
<line x1="683.00" y1="62.16" x2="681.00" y2="62.16" stroke="#333" stroke-width="0.8" />
<line x1="509.50" y1="60.31" x2="511.50" y2="60.31" stroke="#333" stroke-width="0.8" />
<line x1="683.00" y1="60.31" x2="681.00" y2="60.31" stroke="#333" stroke-width="0.8" />
<line x1="509.50" y1="58.67" x2="511.50" y2="58.67" stroke="#333" stroke-width="0.8" />
<line x1="683.00" y1="58.67" x2="681.00" y2="58.67" stroke="#333" stroke-width="0.8" />
<line x1="509.50" y1="57.20" x2="514.00" y2="57.20" stroke="#333" stroke-width="0.8" />
<line x1="683.00" y1="57.20" x2="678.50" y2="57.20" stroke="#333" stroke-width="0.8" />
<line x1="509.50" y1="47.55" x2="511.50" y2="47.55" stroke="#333" stroke-width="0.8" />
<line x1="683.00" y1="47.55" x2="681.00" y2="47.55" stroke="#333" stroke-width="0.8" />
<line x1="509.50" y1="41.91" x2="511.50" y2="41.91" stroke="#333" stroke-width="0.8" />
<line x1="683.00" y1="41.91" x2="681.00" y2="41.91" stroke="#333" stroke-width="0.8" />
<line x1="509.50" y1="37.90" x2="511.50" y2="37.90" stroke="#333" stroke-width="0.8" />
<line x1="683.00" y1="37.90" x2="681.00" y2="37.90" stroke="#333" stroke-width="0.8" />
<line x1="509.50" y1="34.80" x2="511.50" y2="34.80" stroke="#333" stroke-width="0.8" />
<line x1="683.00" y1="34.80" x2="681.00" y2="34.80" stroke="#333" stroke-width="0.8" />
<line x1="509.50" y1="32.26" x2="511.50" y2="32.26" stroke="#333" stroke-width="0.8" />
<line x1="683.00" y1="32.26" x2="681.00" y2="32.26" stroke="#333" stroke-width="0.8" />
<line x1="509.50" y1="30.11" x2="511.50" y2="30.11" stroke="#333" stroke-width="0.8" />
<line x1="683.00" y1="30.11" x2="681.00" y2="30.11" stroke="#333" stroke-width="0.8" />
<line x1="509.50" y1="28.26" x2="511.50" y2="28.26" stroke="#333" stroke-width="0.8" />
<line x1="683.00" y1="28.26" x2="681.00" y2="28.26" stroke="#333" stroke-width="0.8" />
<line x1="509.50" y1="26.62" x2="511.50" y2="26.62" stroke="#333" stroke-width="0.8" />
<line x1="683.00" y1="26.62" x2="681.00" y2="26.62" stroke="#333" stroke-width="0.8" />
<line x1="509.50" y1="25.15" x2="514.00" y2="25.15" stroke="#333" stroke-width="0.8" />
<line x1="683.00" y1="25.15" x2="678.50" y2="25.15" stroke="#333" stroke-width="0.8" />
<rect x="509.50" y="24.50" width="173.50" height="343.50" fill="none" stroke="#333" stroke-width="1.2"/>
<text x="504.5" y="64.2" font-size="19" text-anchor="end" fill="#000" font-weight="bold">10<tspan font-size="12.5" dy="-8">15</tspan></text>
<text x="504.5" y="128.3" font-size="19" text-anchor="end" fill="#000" font-weight="bold">10<tspan font-size="12.5" dy="-8">13</tspan></text>
<text x="504.5" y="192.4" font-size="19" text-anchor="end" fill="#000" font-weight="bold">10<tspan font-size="12.5" dy="-8">11</tspan></text>
<text x="504.5" y="256.5" font-size="19" text-anchor="end" fill="#000" font-weight="bold">10<tspan font-size="12.5" dy="-8">9</tspan></text>
<text x="504.5" y="320.6" font-size="19" text-anchor="end" fill="#000" font-weight="bold">10<tspan font-size="12.5" dy="-8">7</tspan></text>
<text x="509.5" y="392.8" font-size="19" text-anchor="middle" font-weight="bold">10<tspan font-size="12.5" dy="-8">-3</tspan></text>
<text x="563.4" y="392.8" font-size="19" text-anchor="middle" font-weight="bold">10<tspan font-size="12.5" dy="-8">-1</tspan></text>
<text x="617.3" y="392.8" font-size="19" text-anchor="middle" font-weight="bold">10<tspan font-size="12.5" dy="-8">1</tspan></text>
<text x="671.2" y="392.8" font-size="19" text-anchor="middle" font-weight="bold">10<tspan font-size="12.5" dy="-8">3</tspan></text>
<text x="452.8" y="35.8" font-size="19.5" text-anchor="start" fill="#000" font-weight="bold" font-style="normal" >c</text>
<text x="553" y="417.5" font-size="18.5" font-weight="bold"><tspan font-style="italic">I</tspan><tspan font-size="12.5" font-style="italic" dy="4.5">ON_R</tspan><tspan dy="-4.5"> (μA)</tspan></text>
<text transform="translate(456.6,194) rotate(-90)" font-size="20.5" text-anchor="middle" font-weight="bold" xml:space="preserve"><tspan font-style="italic">I</tspan><tspan font-size="14" dy="5">ON_R</tspan><tspan dy="-5"> / </tspan><tspan font-style="italic">I</tspan><tspan font-size="14" dy="5">OFF_W</tspan><tspan dy="-5">   ratio</tspan></text>
<path d="M655.10,72.70 L658.92,82.44 L669.37,83.06 L661.28,89.71 L663.92,99.84 L655.10,94.20 L646.28,99.84 L648.92,89.71 L640.83,83.06 L651.28,82.44 Z" fill="#ff0000" stroke="none" stroke-width="0" />
<text x="650.5" y="113.2" font-size="12.6" text-anchor="middle" fill="#ff1010" font-weight="bold" font-style="normal" >Our work</text>
<circle cx="535" cy="127" r="7.7" fill="#7f00ff"/>
<text x="544.4" y="150.6" font-size="12.6" text-anchor="middle" fill="#a040ff" font-weight="bold" font-style="normal" >IGZO 2T0C</text>
<rect x="588" y="139.2" width="14" height="14" fill="#505050"/>
<text x="612.0" y="136.5" font-size="12.6" text-anchor="middle" fill="#000" font-weight="bold" font-style="normal" >CAA-IGZO 2T0C</text>
<path d="M616.8,143 L626.2,158.4 L607.6,158.4 Z" fill="#2070e0" stroke="none" stroke-width="0" />
<text x="627.2" y="176.0" font-size="12.6" text-anchor="middle" fill="#2070e0" font-weight="bold" font-style="normal" >IWO 2T0C</text>
<path d="M619.4,216.6 L635.2,225.5 L619.4,234.5 Z" fill="#17bfcc" stroke="none" stroke-width="0" />
<text x="627.3" y="248.8" font-size="12.6" text-anchor="middle" fill="#30e0f0" font-weight="bold" font-style="normal" >ITO FET</text>
<path d="M623,272.8 L606.6,281.8 L623,290.7 Z" fill="#cc9a10" stroke="none" stroke-width="0" />
<text x="626" y="309.6" font-size="12.6" text-anchor="middle" font-weight="bold" fill="#e0a030">MoS<tspan font-size="9" dy="3">2</tspan><tspan dy="-3"> FET</tspan></text>
<text x="513.6" y="351.8" font-size="15" font-weight="bold">@L<tspan font-size="11.5" dy="3.8">ch</tspan><tspan dy="-3.8">=1μm</tspan></text>
<rect x="58.50" y="452.70" width="269.50" height="163.80" fill="none" stroke="#222" stroke-width="1.2"/>
<text x="23.6" y="436.2" font-size="18.5" text-anchor="start" fill="#000" font-weight="bold" font-style="normal" >d</text>
<text x="17.6" y="477.0" font-size="14.4" text-anchor="start" fill="#000" font-weight="bold" font-style="normal" >RBL</text>
<text x="17.6" y="508.0" font-size="14.4" text-anchor="start" fill="#000" font-weight="bold" font-style="normal" >RWL</text>
<text x="17.6" y="551.3" font-size="14.4" text-anchor="start" fill="#000" font-weight="bold" font-style="normal" >WBL</text>
<text x="17.6" y="599.5" font-size="14.4" text-anchor="start" fill="#000" font-weight="bold" font-style="normal" >WWL</text>
<line x1="58.50" y1="471.90" x2="328.00" y2="471.90" stroke="#7030a0" stroke-width="3.8" />
<line x1="58.50" y1="502.20" x2="328.00" y2="502.20" stroke="#7030a0" stroke-width="3.8" />
<line x1="58.50" y1="547.30" x2="75.50" y2="547.30" stroke="#7030a0" stroke-width="3.8" />
<line x1="96.00" y1="547.30" x2="203.00" y2="547.30" stroke="#7030a0" stroke-width="3.8" />
<line x1="222.00" y1="547.30" x2="328.00" y2="547.30" stroke="#7030a0" stroke-width="3.8" />
<polyline points="75.40,547.30 77.20,529.30 94.30,529.30 96.00,547.30" fill="none" stroke="#ad2e76" stroke-width="2.0" stroke-linejoin="round" />
<polyline points="203.00,547.30 204.00,561.00 221.00,561.00 222.00,547.30" fill="none" stroke="#f08c78" stroke-width="2.0" stroke-linejoin="round" />
<line x1="58.50" y1="597.00" x2="75.50" y2="597.00" stroke="#7030a0" stroke-width="3.8" />
<line x1="85.00" y1="597.00" x2="204.00" y2="597.00" stroke="#7030a0" stroke-width="3.8" />
<line x1="213.40" y1="597.00" x2="328.00" y2="597.00" stroke="#7030a0" stroke-width="3.8" />
<polyline points="75.40,597.00 77.20,572.60 83.50,572.60 85.00,597.00" fill="none" stroke="#ad2e76" stroke-width="2.0" stroke-linejoin="round" />
<polyline points="204.00,597.00 205.30,571.60 212.20,571.60 213.40,597.00" fill="none" stroke="#f08c78" stroke-width="2.0" stroke-linejoin="round" />
<text x="290.0" y="468.1" font-size="14.2" text-anchor="middle" fill="#000" font-weight="bold" font-style="normal" >1V</text>
<text x="294.0" y="498.5" font-size="14.2" text-anchor="middle" fill="#000" font-weight="bold" font-style="normal" >0V</text>
<text x="63.6" y="520.3" font-size="14.4" text-anchor="start" fill="#ad2e76" font-weight="normal" font-style="normal" >0.2s</text>
<text x="65.1" y="566.4" font-size="14.4" text-anchor="start" fill="#ad2e76" font-weight="normal" font-style="normal" >0.1s</text>
<text x="200.2" y="538.6" font-size="14.6" text-anchor="start" fill="#f08c78" font-weight="normal" font-style="normal" >0.2s</text>
<text x="197.2" y="613.0" font-size="14.6" text-anchor="start" fill="#f08c78" font-weight="normal" font-style="normal" >0.1s</text>
<text x="95.1" y="531" font-size="14.3" font-weight="bold"><tspan font-style="italic">V</tspan><tspan font-size="10" dy="4">pp</tspan><tspan dy="-4">=4V</tspan></text>
<text x="93.7" y="584.9" font-size="14.3" font-weight="bold"><tspan font-style="italic">V</tspan><tspan font-size="10" dy="4">pp</tspan><tspan dy="-4">=5V</tspan></text>
<line x1="82.30" y1="446.80" x2="88.40" y2="446.80" stroke="#d27fae" stroke-width="1.5" />
<path d="M76.6,446.8 L82.8,443.9 L82.8,449.7 Z" fill="#ad2e76" stroke="none" stroke-width="0" />
<path d="M94.1,446.8 L87.9,443.9 L87.9,449.7 Z" fill="#ad2e76" stroke="none" stroke-width="0" />
<line x1="102.10" y1="446.80" x2="193.20" y2="446.80" stroke="#ad2e76" stroke-width="2.1" />
<path d="M95.4,446.8 L102.6,443.1 L102.6,450.5 Z" fill="#ad2e76" stroke="none" stroke-width="0" />
<path d="M199.9,446.8 L192.7,443.1 L192.7,450.5 Z" fill="#ad2e76" stroke="none" stroke-width="0" />
<line x1="205.20" y1="446.80" x2="218.90" y2="446.80" stroke="#f6b5a8" stroke-width="1.5" />
<path d="M200.1,446.8 L205.7,443.9 L205.7,449.7 Z" fill="#f08c78" stroke="none" stroke-width="0" />
<path d="M224.0,446.8 L218.4,443.9 L218.4,449.7 Z" fill="#f08c78" stroke="none" stroke-width="0" />
<line x1="232.00" y1="446.80" x2="321.50" y2="446.80" stroke="#f08c78" stroke-width="2.1" />
<path d="M225.3,446.8 L232.5,443.1 L232.5,450.5 Z" fill="#f08c78" stroke="none" stroke-width="0" />
<path d="M328.2,446.8 L321.0,443.1 L321.0,450.5 Z" fill="#f08c78" stroke="none" stroke-width="0" />
<text x="68.0" y="437.4" font-size="12.8" text-anchor="start" fill="#ad2e76" font-weight="bold" font-style="normal" >Write‘1’</text>
<text x="123.5" y="437.4" font-size="12.8" text-anchor="start" fill="#ad2e76" font-weight="bold" font-style="normal" >Read‘1’</text>
<text x="185.5" y="437.4" font-size="12.8" text-anchor="start" fill="#f08c78" font-weight="bold" font-style="normal" >Write‘0‘</text>
<text x="251.7" y="437.4" font-size="12.8" text-anchor="start" fill="#f08c78" font-weight="bold" font-style="normal" >Read'0'</text>
<line x1="421.30" y1="617.00" x2="421.30" y2="612.00" stroke="#333" stroke-width="1" />
<line x1="421.30" y1="454.60" x2="421.30" y2="459.60" stroke="#333" stroke-width="1" />
<line x1="445.15" y1="617.00" x2="445.15" y2="614.50" stroke="#333" stroke-width="1" />
<line x1="445.15" y1="454.60" x2="445.15" y2="457.10" stroke="#333" stroke-width="1" />
<line x1="469.00" y1="617.00" x2="469.00" y2="612.00" stroke="#333" stroke-width="1" />
<line x1="469.00" y1="454.60" x2="469.00" y2="459.60" stroke="#333" stroke-width="1" />
<line x1="492.85" y1="617.00" x2="492.85" y2="614.50" stroke="#333" stroke-width="1" />
<line x1="492.85" y1="454.60" x2="492.85" y2="457.10" stroke="#333" stroke-width="1" />
<line x1="516.70" y1="617.00" x2="516.70" y2="612.00" stroke="#333" stroke-width="1" />
<line x1="516.70" y1="454.60" x2="516.70" y2="459.60" stroke="#333" stroke-width="1" />
<line x1="540.55" y1="617.00" x2="540.55" y2="614.50" stroke="#333" stroke-width="1" />
<line x1="540.55" y1="454.60" x2="540.55" y2="457.10" stroke="#333" stroke-width="1" />
<line x1="564.40" y1="617.00" x2="564.40" y2="612.00" stroke="#333" stroke-width="1" />
<line x1="564.40" y1="454.60" x2="564.40" y2="459.60" stroke="#333" stroke-width="1" />
<line x1="588.25" y1="617.00" x2="588.25" y2="614.50" stroke="#333" stroke-width="1" />
<line x1="588.25" y1="454.60" x2="588.25" y2="457.10" stroke="#333" stroke-width="1" />
<line x1="612.10" y1="617.00" x2="612.10" y2="612.00" stroke="#333" stroke-width="1" />
<line x1="612.10" y1="454.60" x2="612.10" y2="459.60" stroke="#333" stroke-width="1" />
<line x1="635.95" y1="617.00" x2="635.95" y2="614.50" stroke="#333" stroke-width="1" />
<line x1="635.95" y1="454.60" x2="635.95" y2="457.10" stroke="#333" stroke-width="1" />
<line x1="659.80" y1="617.00" x2="659.80" y2="612.00" stroke="#333" stroke-width="1" />
<line x1="659.80" y1="454.60" x2="659.80" y2="459.60" stroke="#333" stroke-width="1" />
<line x1="397.40" y1="602.10" x2="402.40" y2="602.10" stroke="#333" stroke-width="1" />
<line x1="683.60" y1="602.10" x2="678.60" y2="602.10" stroke="#333" stroke-width="1" />
<line x1="397.40" y1="587.36" x2="399.90" y2="587.36" stroke="#333" stroke-width="1" />
<line x1="683.60" y1="587.36" x2="681.10" y2="587.36" stroke="#333" stroke-width="1" />
<line x1="397.40" y1="572.62" x2="402.40" y2="572.62" stroke="#333" stroke-width="1" />
<line x1="683.60" y1="572.62" x2="678.60" y2="572.62" stroke="#333" stroke-width="1" />
<line x1="397.40" y1="557.88" x2="399.90" y2="557.88" stroke="#333" stroke-width="1" />
<line x1="683.60" y1="557.88" x2="681.10" y2="557.88" stroke="#333" stroke-width="1" />
<line x1="397.40" y1="543.14" x2="402.40" y2="543.14" stroke="#333" stroke-width="1" />
<line x1="683.60" y1="543.14" x2="678.60" y2="543.14" stroke="#333" stroke-width="1" />
<line x1="397.40" y1="528.40" x2="399.90" y2="528.40" stroke="#333" stroke-width="1" />
<line x1="683.60" y1="528.40" x2="681.10" y2="528.40" stroke="#333" stroke-width="1" />
<line x1="397.40" y1="513.66" x2="402.40" y2="513.66" stroke="#333" stroke-width="1" />
<line x1="683.60" y1="513.66" x2="678.60" y2="513.66" stroke="#333" stroke-width="1" />
<line x1="397.40" y1="498.92" x2="399.90" y2="498.92" stroke="#333" stroke-width="1" />
<line x1="683.60" y1="498.92" x2="681.10" y2="498.92" stroke="#333" stroke-width="1" />
<line x1="397.40" y1="484.18" x2="402.40" y2="484.18" stroke="#333" stroke-width="1" />
<line x1="683.60" y1="484.18" x2="678.60" y2="484.18" stroke="#333" stroke-width="1" />
<line x1="397.40" y1="469.44" x2="399.90" y2="469.44" stroke="#333" stroke-width="1" />
<line x1="683.60" y1="469.44" x2="681.10" y2="469.44" stroke="#333" stroke-width="1" />
<rect x="397.40" y="454.60" width="286.20" height="162.40" fill="none" stroke="#333" stroke-width="1.2"/>
<text x="374.4" y="607.7" font-size="18.4" text-anchor="middle" fill="#000" font-weight="bold" font-style="normal" >0</text>
<text x="374.4" y="578.2" font-size="18.4" text-anchor="middle" fill="#000" font-weight="bold" font-style="normal" >10</text>
<text x="374.4" y="548.7" font-size="18.4" text-anchor="middle" fill="#000" font-weight="bold" font-style="normal" >20</text>
<text x="374.4" y="519.3" font-size="18.4" text-anchor="middle" fill="#000" font-weight="bold" font-style="normal" >30</text>
<text x="374.4" y="489.8" font-size="18.4" text-anchor="middle" fill="#000" font-weight="bold" font-style="normal" >40</text>
<text x="374.4" y="460.3" font-size="18.4" text-anchor="middle" fill="#000" font-weight="bold" font-style="normal" >50</text>
<text x="422.1" y="639.5" font-size="17.6" text-anchor="middle" fill="#000" font-weight="bold" font-style="normal" >0</text>
<text x="469.8" y="639.5" font-size="17.6" text-anchor="middle" fill="#000" font-weight="bold" font-style="normal" >2</text>
<text x="517.5" y="639.5" font-size="17.6" text-anchor="middle" fill="#000" font-weight="bold" font-style="normal" >4</text>
<text x="565.2" y="639.5" font-size="17.6" text-anchor="middle" fill="#000" font-weight="bold" font-style="normal" >6</text>
<text x="612.9" y="639.5" font-size="17.6" text-anchor="middle" fill="#000" font-weight="bold" font-style="normal" >8</text>
<text x="660.6" y="639.5" font-size="17.6" text-anchor="middle" fill="#000" font-weight="bold" font-style="normal" >10</text>
<text x="525.2" y="661.7" font-size="18.2" text-anchor="middle" fill="#000" font-weight="bold" font-style="normal" >Time (s)</text>
<text transform="translate(353.4,530) rotate(-90)" font-size="18" text-anchor="middle" font-weight="bold"><tspan font-style="italic">I</tspan><tspan font-size="12.5" dy="4">RBL</tspan><tspan dy="-4">(μA/μm)</tspan></text>
<text x="397.3" y="442.2" font-size="19" text-anchor="start" fill="#000" font-weight="bold" font-style="normal" >e</text>
<polyline points="420.10,596.70 428.50,596.70 428.50,479.80 430.00,479.80 430.00,485.90 431.50,485.90 431.80,556.00 433.00,558.00 433.50,562.50 440.00,564.00 460.00,565.00 480.00,565.50 510.00,566.00 541.40,567.00" fill="none" stroke="#4d4d4d" stroke-width="2.6" stroke-linejoin="round" />
<rect x="428.3" y="480" width="3.5" height="78" fill="#4d4d4d"/>
<polyline points="541.40,567.00 539.60,581.40 543.50,582.00 543.50,599.80 560.00,600.00 600.00,600.20 660.00,600.40" fill="none" stroke="#4d4d4d" stroke-width="2.6" stroke-linejoin="round" />
<text x="417.6" y="477.5" font-size="17.4" text-anchor="start" fill="#ad2e76" font-weight="normal" font-style="normal" >W '1'</text>
<text x="454.6" y="548.1" font-size="17.6" text-anchor="start" fill="#ad2e76" font-weight="normal" font-style="letter-spacing="0.4"" >R '1'</text>
<text x="523.8" y="558.1" font-size="16.8" text-anchor="start" fill="#f08c78" font-weight="normal" font-style="normal" >W'0'</text>
<text x="572.1" y="591.2" font-size="17.6" text-anchor="start" fill="#f08c78" font-weight="normal" font-style="letter-spacing="0.3"" >R ‘0'</text>
</svg></body></html>
